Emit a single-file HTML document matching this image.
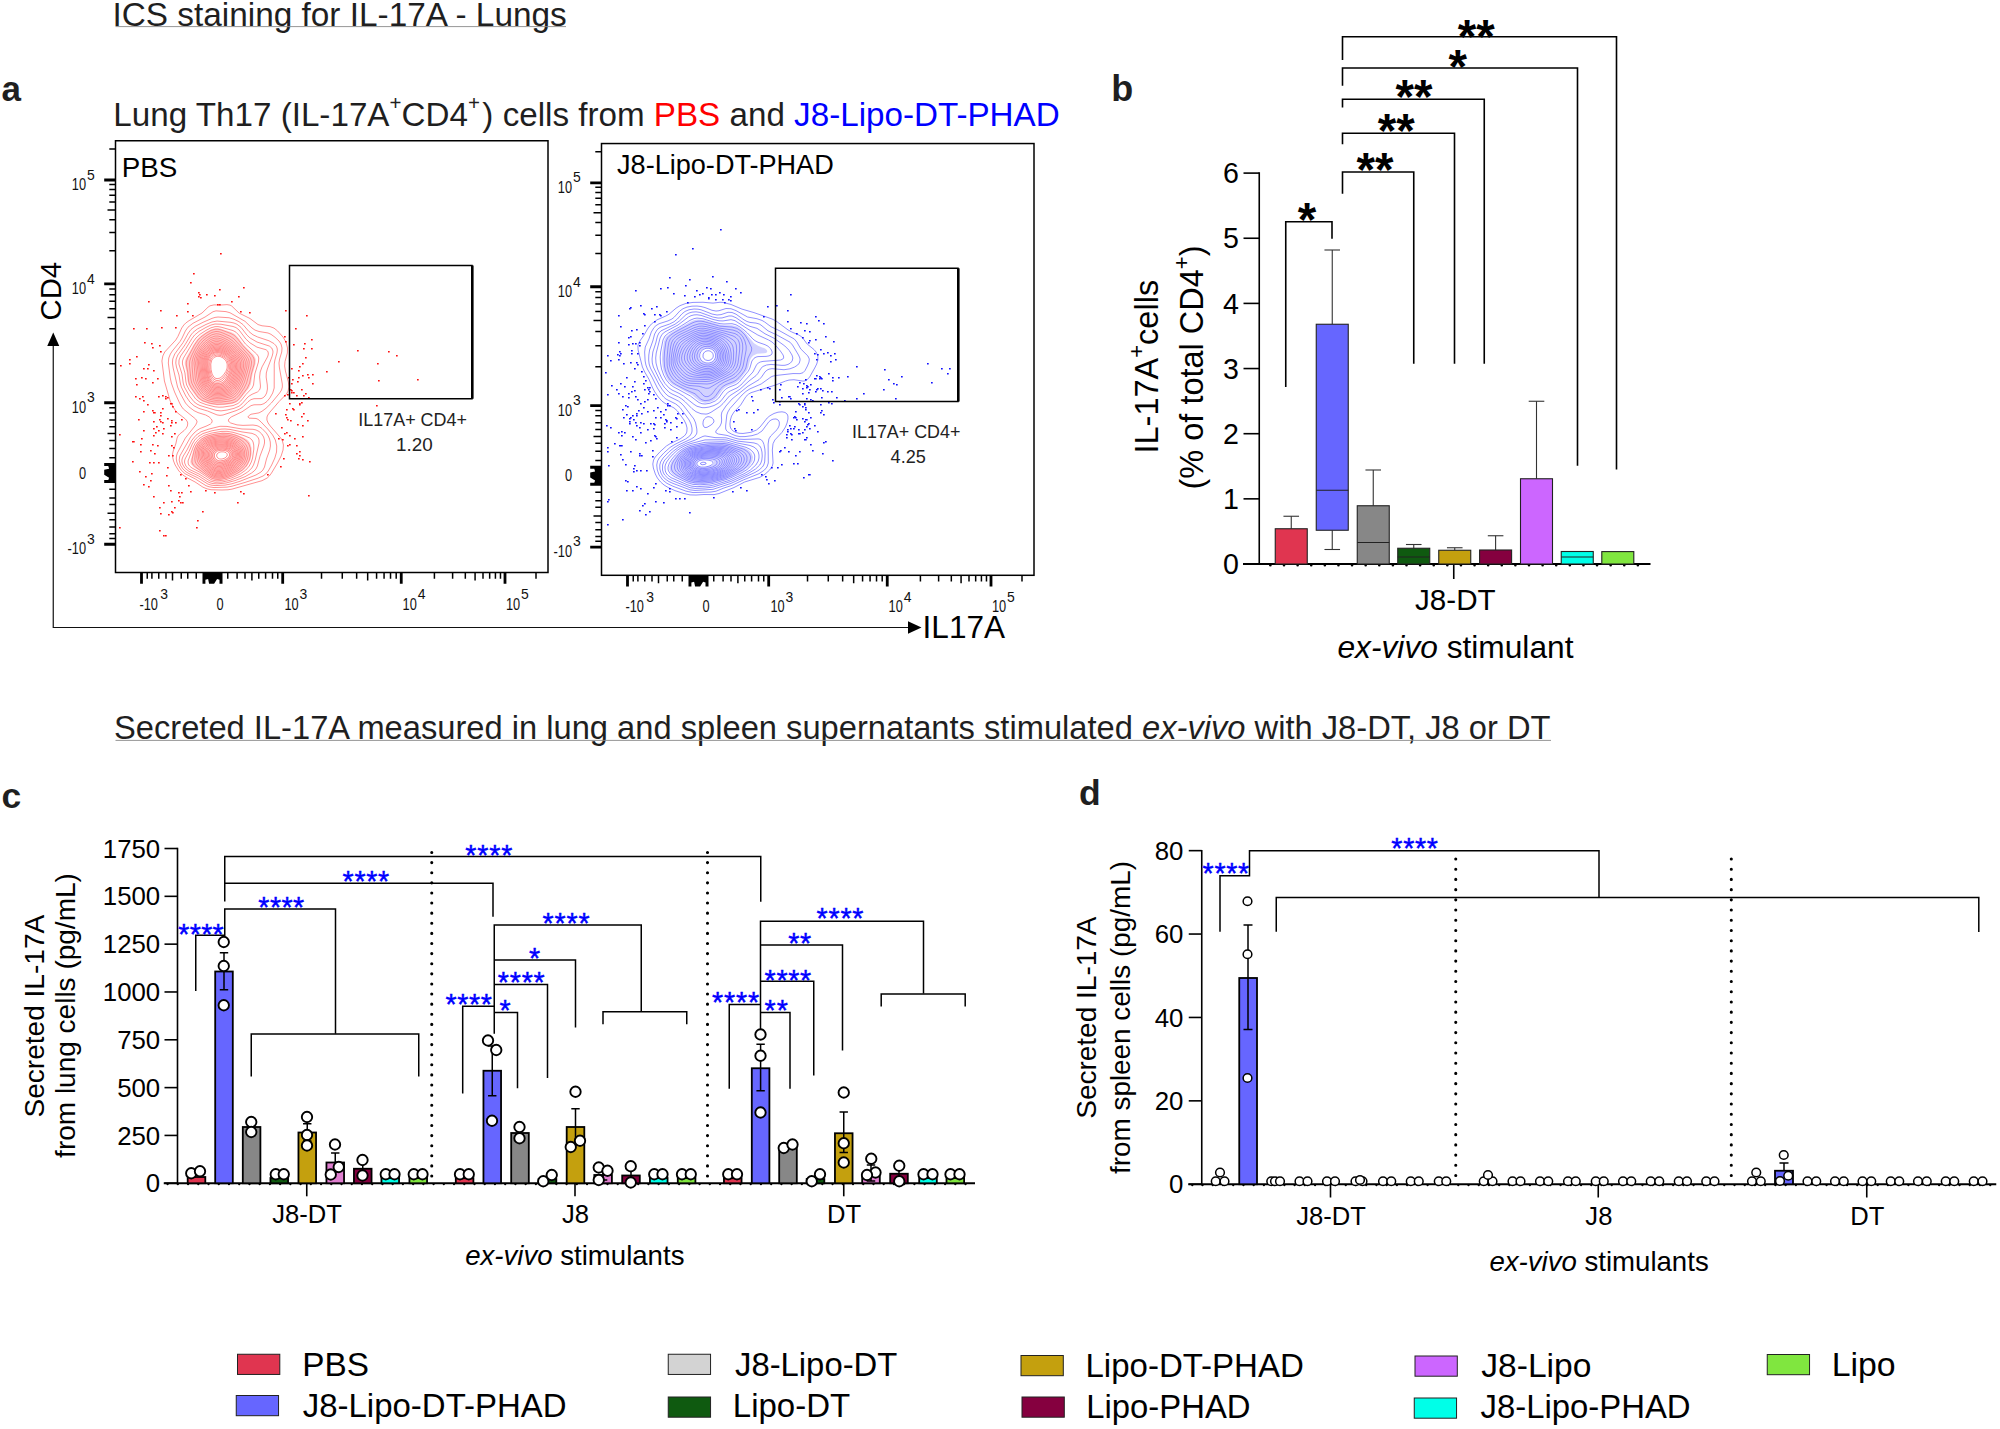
<!DOCTYPE html>
<html><head><meta charset="utf-8"><title>Figure</title>
<style>
html,body{margin:0;padding:0;background:#fff}
svg{display:block}
text{stroke:none;font-family:"Liberation Sans",sans-serif;white-space:pre}
.pt circle{fill:#fff;stroke:#000;stroke-width:1.9}
.pd circle{stroke-width:1.5}
</style></head><body>
<svg width="2000" height="1429" viewBox="0 0 2000 1429" stroke="#000" fill="#000">
<rect x="0" y="0" width="2000" height="1429" fill="#fff" stroke="none"/>
<text x="112.43" y="25.75" font-size="33.36" fill="#1f1f1f">ICS staining for IL-17A - Lungs</text>
<line x1="115.5" y1="26.6" x2="566" y2="26.6" stroke-width="0.9" stroke="#8a8a8a"/>
<text x="1.48" y="101" font-size="35" font-weight="bold" fill="#1f1f1f">a</text>
<text x="1111.37" y="101.25" font-size="36" font-weight="bold" fill="#1f1f1f">b</text>
<text x="1.44" y="807.75" font-size="35.5" font-weight="bold" fill="#1f1f1f">c</text>
<text x="1078.93" y="805.2" font-size="35.5" font-weight="bold" fill="#1f1f1f">d</text>
<text x="113.34" y="126.25" font-size="33.2" fill="#1f1f1f">Lung Th17 (IL-17A<tspan font-size="20.5" dy="-15.8">+</tspan><tspan dy="15.8">CD4</tspan><tspan font-size="20.5" dy="-15.8">+</tspan><tspan dy="15.8" dx="2.5">) cells from </tspan><tspan fill="#ff0000">PBS</tspan> and <tspan fill="#0000ff">J8-Lipo-DT-PHAD</tspan></text>
<text x="114.02" y="739" font-size="33" fill="#1f1f1f" textLength="1436.5" lengthAdjust="spacingAndGlyphs">Secreted IL-17A measured in lung and spleen supernatants stimulated <tspan font-style="italic">ex-vivo</tspan> with J8-DT, J8 or DT</text>
<line x1="115.5" y1="740.4" x2="1551" y2="740.4" stroke-width="0.9" stroke="#8a8a8a"/>
<path d="M225 405.03 217 405.34 210 404.16 202 401.48 197.22 398 190.72 389 188.54 385 187.5 381 186.58 372 184.74 364 184.92 361 186.04 358 193.87 344 197.39 339 201 335.57 207 331.55 211 329.4 215 328.21 218 328.18 221 328.81 232 332.57 235 334.26 237.69 337 243.8 345 253.66 355 255.32 358 255.77 360 255.5 364 252.57 374 250.88 384 249.02 388 240 399.44 237.18 402 233 403.83 225 405.03ZM225 479.01 217 479.96 214 479.57 211 478.51 193.6 467 190.83 464 190.37 462 190.6 460 193.48 450 195.45 445 199 440.19 204 436.71 209 434.86 216 433.32 223 432.52 229 432.8 236 434.49 244 437.7 247.68 440 250.15 443 251.61 448 251.62 454 250.31 460 247.33 466 243.61 470 239 473.21 232 476.65 225 479.01ZM221 383.14 217 383.66 213 382.28 210.17 379 208.66 374 207.73 365 207.87 362 208.62 359 211.32 355 214 353.28 216 352.73 221 353.27 225.88 356 229.32 360 230.71 364 230.59 369 228.37 375 225 380.33 223 382.13 221 383.14ZM224 460.28 220 460.97 218 460.57 216 459.33 214.95 458 214.31 456 215.07 453 217.71 451 221 450.24 225 450.49 228.33 452 229.58 454 229.37 456 227.93 458 224 460.28Z" fill="#ff8a8a" fill-opacity="0.42" fill-rule="evenodd" stroke="none"/>
<path d="M222 490.01 211 489.74 207 488.85 203 487.2 195 481.93 187 477.73 183 475.11 178.9 471 175.16 465 173.55 461 172.65 457 172.58 454 173.19 451 175.78 444 177.1 438 177.96 436 179.72 434 184 430.61 186 428.47 187.42 426 187.74 423 186.98 421 185.37 419 178 413.28 175.72 411 173.15 407 170.18 401 164.43 381 161.92 361 162.81 356 164.74 352 175.81 340 178 336.26 181.72 328 183.8 325 185.77 323 189 320.69 202 313.04 208 307.19 210 305.8 214 304.88 221 305.01 227 304.63 230 305.11 231.73 306 239 313.02 250 318.53 258 324.56 262 325.79 270 326.61 274 328.11 277.63 331 283.01 337 285.99 342 287.53 348 287.37 353 285 361.47 284.65 366 285.41 371 288.36 382 288.84 387 288.11 391 286.52 394 279 401.6 270 412.02 267.81 415 266.97 417 266.9 420 268.12 423 270.3 426 280.75 438 282.45 441 283.42 445 283.04 450 281.12 456 277.53 463 271.54 473 269.3 476 267.19 478 262 480.69 232 489.11 228 489.77 222 490.01ZM227 487.11 214 487.57 209 486.79 206 485.68 195.42 479 185 473.65 181.1 470 177.95 465 176.84 462 176.3 459 176.44 456 177.36 453 185.37 438 195.69 425 197.04 422 196.92 421 195.58 419 183.34 409 181.15 406 179.58 403 174.57 392 171.35 383 170.28 378 168.34 363 168.78 358 170.36 354 172.33 351 180 341.51 182.09 338 185.36 331 188 327.16 193 323.28 205.06 317 213 311.72 216 310.87 226 311.62 230 312.76 245 321.32 252 328.02 255 330.1 259 331.51 268 332.99 271 334.32 275 337.28 279 341 280.99 344 282.02 348 281.72 352 279.6 359 278.99 363 279.3 367 282.31 384 282.36 387 281.54 390 279.63 393 271.38 403 266 408.29 262 411.26 259 412.87 251 414.24 248.49 416 247.95 417 249 418.14 256 418.46 258 419.29 261 421.92 267.74 429 272.62 435 275.34 440 276.73 446 276.56 452 274.83 458 271.66 465 268.24 471 265.73 474 263.02 476 258 478.18 245 482.43 232 486.21 227 487.11ZM225 485.1 215 485.61 211 485.09 208 484.12 198 477.9 189 473.64 186 471.84 182.93 469 180.38 465 179.16 460 179.84 456 190.62 437 194 433.04 197 430.41 200 428.55 207 425.81 210.47 424 211.56 423 212.24 421 211.32 419 209 416.82 205.73 415 198 412.6 194 410.66 189 406.93 185.49 403 180.62 394 177.57 387 173.16 368 172.42 363 172.74 359 174.72 354 183 342.67 188.38 333 191 329.53 195 326.43 203 322.31 212 318.36 215 317.42 218 317.02 229 317.74 234 319.28 239 321.66 243 324.58 249 331.6 253 334.82 257.66 337 269 340.79 274 343.58 276.23 346 277.08 348 277.34 350 276.96 353 274.92 360 274.24 364 274.2 388 272.69 393 269.83 398 267 401.39 264 403.61 261 404.69 254 404.81 251 405.66 242 411.81 231.16 417 228.93 419 228.43 420 228.48 421 229.21 422 230.75 423 237 424.88 243 425.38 253 425.04 257 425.65 259 426.5 262 428.51 266.35 433 268.26 436 269.56 439 270.29 442 270.43 446 269.72 450 266.47 459 264.5 467 262.91 470 261.02 472 255.93 475 240 481.28 232 483.75 225 485.1ZM223 415.01 220 415.39 217 414.91 207.6 411 199 408.44 194 405.81 190 402.2 185.79 396 181.34 387 180.26 383 178.97 375 176.45 367 175.77 363 176.16 359 177.82 355 185 344.82 190.91 335 193 332.41 197.35 329 206 324.44 212 321.97 217 321.05 231 322.35 234 323.05 237 324.29 241 327.39 246.91 335 250.07 338 257 342.04 269.22 346 271.76 348 272.96 351 272.91 353 272.2 356 267.37 369 266.31 373 266.15 377 267.3 385 267.44 389 266.65 393 265.05 396 263 397.84 261 398.62 254 398.71 251 399.6 248 401.8 243 406.81 240 408.88 236 410.67 223 415.01ZM226 483.02 217 483.88 213 483.59 210 482.8 207 481.36 198.77 476 189 471.39 184.75 468 182.41 464 181.86 461 182.07 459 183.27 456 187 449.96 192.04 440 196 435.24 201 431.81 208 429.32 220 426.29 227 426.43 242 429.01 253 429.31 256 429.95 259 431.44 261.79 434 263.62 437 264.48 440 264.52 443 263.82 446 260 456.14 257.41 466 255.9 469 254.13 471 251.56 473 245 476.7 235 480.6 226 483.02ZM227 410.05 221 410.89 216 410.35 200 405.53 197 404.05 194 401.77 189.43 396 184.37 387 183.21 383 181.98 374 178.9 364 179.03 360 180.65 356 186 348.26 192 338.39 194.64 335 199 331.41 206 327.39 211 325.04 215 324 221 324.24 233 326.46 236 327.59 239.07 330 245.85 339 250 342.87 257 347.16 266 349.71 267.62 351 268.35 353 268.16 355 267.46 357 262 366.95 260.17 372 259.61 377 260.46 386 260.28 388 259.53 390 257.38 392 252 394.3 249 396.15 247 397.97 242 403.85 239 406.24 234 408.36 227 410.05ZM222 482.05 215 482.27 210 480.97 199 474.03 190 469.68 187.65 468 185.9 466 184.65 463 184.56 461 185.05 459 189 451.62 192.3 444 194.77 440 198 436.6 203 433.53 212 430.76 221 429.13 225 428.98 230 429.42 242 431.92 252 433.36 255.87 435 258.39 438 259.01 440 259.05 443 255.2 460 253.48 465 251.76 468 247.78 472 241 476.09 230 480.34 222 482.05ZM223 407.08 219 407.2 215 406.8 206 404.57 200 402.31 195.68 399 189.26 390 186.7 385 185.95 382 184.94 373 182.44 364 182.48 361 183.53 358 193.12 342 196 337.99 200 334.27 206 330.4 211 327.78 215 326.66 218 326.61 221 327.15 233 330.57 236 332.2 238.7 335 245.48 344 256.64 354 258.12 356 258.75 358 258.44 362 254.8 374 253.53 385 252.19 388 246 394.42 240.79 401 238 403.49 233 405.6 223 407.08ZM224 480.16 217 480.84 214 480.51 211 479.56 200 472.35 192 468 189.53 466 188.28 464 188.05 461 193.27 447 195.27 443 199 438.6 204 435.44 211 433.19 221 431.45 227 431.34 233 432.3 244 435.61 249.74 438 252 439.97 253.09 442 253.72 445 253.83 449 252.57 458 251.31 462 249.28 466 245.84 470 240.17 474 232 477.76 224 480.16ZM224 404.05 217 404.35 210 403.26 203 400.87 200 399.06 198 397.2 191.4 388 189.34 384 188.58 381 187.72 372 186.31 365 186.28 362 187.56 358 194.48 345 197.91 340 201 336.88 206 333.26 211 330.42 215 329.19 218 329.17 221 329.85 231 333.58 234 335.2 236.92 338 243 345.73 251.9 355 253.69 358 254.26 360 254.19 364 251.35 374 249.63 383 247.39 388 240 397.87 237 400.84 235 402 232 402.98 224 404.05ZM222 479.09 218 479.45 215 479.2 212 478.32 209 476.69 195.46 467 193.26 465 191.94 462 192.14 459 194.26 450 195.74 446 198.27 442 202 438.65 207 436.19 214 434.36 222 433.3 229 433.55 234 434.69 239 436.52 243.91 439 247 441.43 248.89 444 250.29 448 250.67 452 250.32 456 249.3 460 247.49 464 245.36 467 242.26 470 238 472.91 233 475.5 227 477.86 222 479.09ZM221 402.06 214 402 208 400.64 203 398.3 199.39 395 193.8 387 191.76 383 190.88 379 189.45 365 189.74 361 191.44 356 195.4 348 199.31 342 203 338.17 208 334.56 212 332.41 216 331.45 219 331.72 223 333.07 230 336.2 234 338.93 248.55 355 250.52 358 251.59 362 251.13 366 246.59 383 244.17 388 239.37 395 236 398.52 233 400.14 229 401.12 221 402.06ZM220 478.12 215 477.89 211 476.35 206.34 473 197.02 465 195.26 462 194.81 459 195.18 454 196.27 449 198.05 445 200.38 442 204 439.22 208 437.41 215 435.7 222 434.92 228 435.11 233 436.22 237 437.75 241.09 440 244 442.35 246.11 445 247.52 448 248.3 452 248.25 455 247.43 459 246.22 462 244 465.48 241.66 468 238 470.87 229 475.68 224 477.39 220 478.12ZM222 400.11 216 400.4 210 399.43 205 397.23 201.31 394 196.4 387 193.93 382 193.1 378 192.08 367 192.06 362 193.27 357 195.94 351 199.57 345 203 340.92 207 337.6 212 334.73 216 333.73 219 334.02 223 335.41 229 338.31 233 341.12 245.94 355 248.48 359 249.26 362 248.73 367 244.53 382 242.23 387 239 392.14 236 395.71 233 397.77 229 399.07 222 400.11ZM219 477.05 215 476.69 211 474.95 203.68 469 198.92 464 197.39 461 196.75 457 197.08 452 198.14 448 200 444.59 203 441.52 207 439.21 211 437.87 218 436.62 224 436.3 229 436.78 234 438.22 237.73 440 240.68 442 243 444.27 244.84 447 245.98 450 246.43 453 246.28 456 245.19 460 243.66 463 242 465.23 239.19 468 236 470.37 231.58 473 227 475.15 223 476.45 219 477.05ZM225 398.08 219 398.78 214 398.66 210 397.75 206 395.8 202.83 393 199.19 388 196.48 383 195.33 379 193.96 363 194.51 359 196.27 354 200 347.37 204.48 342 210 337.92 215 336.05 218 336.02 222 337.16 228 340.05 232 342.8 237 347.61 243.76 355 246.33 359 247.21 362 246.83 367 243.89 378 241.64 384 238.95 389 236 393.05 233 395.59 230 396.95 225 398.08ZM224 475.02 220 475.88 217 475.91 214 475.2 212 474.24 208.86 472 204.5 468 201.76 465 199.78 462 198.71 459 198.3 456 198.48 452 199.19 449 200.61 446 202.16 444 204.49 442 207 440.55 212 438.84 218 437.85 224 437.61 229 438.17 234 439.74 238 441.92 241.47 445 243.46 448 244.51 451 244.79 455 243.92 459 241.84 463 239 466.24 235 469.41 229 472.95 224 475.02ZM222 397.05 217 397.4 213 397.02 209 395.73 206 393.85 202.41 390 199.27 385 197.63 381 196.85 377 195.62 363 196.36 358 197.85 354 201.37 348 205.78 343 211 339.42 215 338.11 218 338.07 222 339.15 227 341.5 231 344.15 236 348.66 241.82 355 244.39 359 245.33 362 245.11 367 242.55 377 240.27 383 237.05 389 234 392.71 231 394.78 227 396.17 222 397.05ZM223 474.19 220 474.81 217 474.82 214 474.03 212 472.99 209 470.71 205.21 467 202.74 464 201.01 461 200.03 458 199.65 455 199.8 452 200.53 449 203 444.89 205.14 443 208 441.36 213 439.76 218 439 224 438.83 229 439.45 233 440.7 237.21 443 240.47 446 242.33 449 243.24 452 243.26 456 242.02 460 240.17 463 237.33 466 233 469.26 228 472.16 223 474.19ZM219 396.01 214 395.82 210 394.64 206.05 392 202.68 388 200.37 384 198.96 380 197.16 365 197.21 361 198.07 357 199.79 353 202.31 349 205.78 345 209 342.42 213 340.46 216 339.88 219 340.09 223 341.34 228 343.92 232 346.85 237 351.55 240.8 356 243.03 360 243.72 363 243.36 368 241.35 376 238.62 383 235 389.35 232 392.39 229 394.05 225 395.22 219 396.01ZM223 473.07 218 473.82 215 473.26 213 472.35 210 470.2 206.72 467 204.28 464 202.5 461 201.42 458 200.95 455 201.49 450 203.62 446 205.73 444 208 442.6 212 441.1 217 440.18 223 439.93 228 440.44 232 441.57 236 443.63 238.8 446 240.9 449 241.92 452 242.08 455 241.1 459 239.39 462 236.66 465 232.79 468 227.82 471 223 473.07ZM224 394.14 219 394.76 215 394.66 212 393.99 209 392.59 205.89 390 202.89 386 200.97 382 199.95 378 198.41 363 198.82 359 199.73 356 202.4 351 206.66 346 211 342.97 215 341.67 218 341.61 222 342.58 226 344.4 230 346.98 234.69 351 238.38 355 240.94 359 241.95 362 242.03 367 240.83 373 238.83 379 235.54 386 233.51 389 231 391.38 228 393.01 224 394.14ZM222 472.24 219 472.73 217 472.63 212.8 471 210 468.83 207.27 466 205.02 463 203.42 460 202.48 457 202.16 454 203 449.39 204.35 447 206 445.26 210 442.89 214 441.7 219 441.05 224 441.05 229 441.79 233 443.2 235.98 445 238.14 447 240.05 450 240.85 453 240.76 456 239.82 459 237.94 462 235 464.96 231 467.87 226 470.7 222 472.24ZM223 393.1 219 393.56 215 393.4 212 392.65 209 391.08 206 388.32 203.66 385 202.25 382 201.2 378 199.63 363 200.03 359 200.96 356 203.79 351 207 347.35 211 344.52 215 343.21 218 343.14 222 344.09 226 345.92 230 348.54 234.02 352 237.56 356 239.38 359 240.59 363 240.51 368 239.22 374 236.99 380 234.01 386 232 388.71 230 390.47 227 392.04 223 393.1ZM222 471.1 219 471.61 217 471.49 213 469.88 210.61 468 208 465.23 204.71 460 203.41 455 203.52 452 204.06 450 206 446.87 208 445.17 210.12 444 214 442.74 218 442.13 223 442.02 228 442.62 232 443.9 235 445.61 237 447.38 238.8 450 239.7 453 239.61 456 238.58 459 237 461.43 234.49 464 231 466.6 226 469.5 222 471.1ZM222 392.09 218 392.41 215 392.18 212 391.33 209 389.59 206.38 387 204.38 384 203.1 381 202.19 377 200.77 363 201.17 359 202.14 356 204.4 352 208 348.02 211 345.96 215 344.61 218 344.53 222 345.47 226 347.33 230 350.01 234 353.62 236.74 357 238.33 360 239.15 363 239.18 368 238.21 373 236.04 379 233.13 385 231 387.9 229 389.61 226 391.11 222 392.09ZM221 470.19 218 470.44 215 469.71 212 467.83 208.36 464 206.44 461 204.93 457 204.62 453 205.39 450 206.61 448 209 445.86 212 444.39 215 443.56 219 443.04 224 443.07 228 443.65 231 444.58 235 446.92 237.58 450 238.66 454 237.86 458 236 461 232 464.66 226 468.29 221 470.19ZM221 391.06 217 391.21 214 390.74 211 389.51 209 388.1 206.97 386 205.07 383 203.91 380 203.13 376 201.85 363 202.08 360 202.88 357 204.98 353 208 349.5 211 347.32 215 345.92 218 345.83 222 346.76 226 348.66 230 351.43 233.74 355 235.93 358 237.29 361 237.91 364 237.9 368 236.93 373 234.69 379 232 384.44 230 387.1 227.61 389 225 390.19 221 391.06ZM220 469.16 217 469.09 214 467.91 211.54 466 208.94 463 207 459.58 205.93 456 205.86 453 206.77 450 208.23 448 210.98 446 214 444.84 217 444.22 225 444.13 229 444.93 232 446.14 235 448.33 236.87 451 237.56 454 236.69 458 234 461.67 230 464.81 224 468.01 220 469.16ZM220 390 216 389.93 212.63 389 209.45 387 207 384.23 205.33 381 204.48 378 203.04 366 202.91 362 203.34 359 205.54 354 207.96 351 210 349.27 213 347.69 216 347.04 219 347.18 223 348.39 227 350.56 230 352.82 232.26 355 234.55 358 235.95 361 236.62 364 236.66 368 235.67 373 233.35 379 230.79 384 229 386.29 226.84 388 224 389.24 220 390ZM219 468 216 467.53 214 466.53 211.1 464 208.94 461 207.61 458 207.04 455 207.35 452 208.24 450 210 448.02 212 446.74 215 445.64 218 445.08 222 444.89 226 445.24 229 445.95 232 447.29 235.04 450 236.34 453 236.26 456 234.91 459 232.14 462 228 464.83 223 467.18 219 468ZM223 388.26 220 388.81 217 388.84 214 388.26 211.34 387 209 385.04 207.45 383 206.05 380 205.29 377 203.9 364 204.01 361 204.69 358 206.75 354 209 351.44 212 349.35 215 348.34 218 348.22 221 348.82 224 350.04 227.25 352 230 354.22 232.51 357 234.27 360 235.21 363 235.51 367 234.96 371 233.71 375 231.52 380 229.91 383 228 385.44 226 387.01 223 388.26ZM222 466.25 218 466.66 215 465.7 212 463.31 209.69 460 208.38 456 208.45 453 209.82 450 213 447.52 216 446.46 219 445.97 223 445.88 227 446.41 230 447.39 232 448.51 233.65 450 234.88 452 235.31 454 235.1 456 234.27 458 232.77 460 228 463.63 222 466.25ZM222 387.23 217 387.62 214 386.99 211.93 386 210 384.49 208.07 382 206.27 377 204.91 365 204.91 362 205.43 359 206.67 356 209 352.86 212 350.58 215 349.5 218 349.35 221 349.96 224 351.21 226.9 353 230 355.68 231.88 358 233.01 360 234 363 234.33 366 233.96 370 232.8 374 230.61 379 229 382 227 384.54 225 386.05 222 387.23ZM221 465.2 218 465.29 216 464.73 214 463.52 211.67 461 210.54 459 209.67 456 209.84 453 210.76 451 212 449.64 214 448.34 219 446.98 223 446.86 226 447.21 230.82 449 233 451 233.95 453 234 455.46 232.97 458 231 460.25 228 462.41 224 464.34 221 465.2ZM221 386.12 218 386.41 215 386.01 213 385.23 211 383.86 209.35 382 208.23 380 206.75 374 205.82 364 206.01 361 206.82 358 208.51 355 210.37 353 213 351.3 216 350.48 218 350.45 221 351.07 224 352.36 227 354.33 229.8 357 231.23 359 232.21 361 233 364 233.15 367 232.52 371 229 379.35 227.35 382 225.49 384 224 385.03 221 386.12ZM224 463.07 221 463.87 218 463.86 215 462.59 213 460.65 211.53 458 210.99 455 211.82 452 213.67 450 218 448.23 223 447.87 228 448.83 231.41 451 232.16 452 232.8 454 232.57 456 232 457.28 229 460.44 224 463.07ZM219 385.05 216 384.92 214 384.31 212 383.14 210.01 381 208.95 379 208.04 376 206.99 368 206.87 362 207.53 359 208.42 357 210 354.8 212 353.09 216 351.6 218 351.55 221 352.17 224 353.51 227 355.62 229.27 358 230.55 360 231.38 362 231.97 365 231.92 368 230.99 372 227.05 380 224 383.3 222 384.36 219 385.05ZM223 462.06 220 462.54 218 462.32 216 461.47 214 459.6 212.74 457 212.53 455 213.04 453 214.7 451 218 449.45 223 448.96 227.78 450 230.48 452 231.07 453 231.34 455 230 457.89 227 460.34 223 462.06ZM221 383.14 217 383.66 215 383.26 213 382.28 211.54 381 210.17 379 208.66 374 207.73 365 207.87 362 208.62 359 209.63 357 211.32 355 214 353.28 216 352.73 218 352.65 221 353.27 225.88 356 229.32 360 230.71 364 230.59 369 228.37 375 225 380.33 223 382.13 221 383.14ZM224 460.28 220 460.97 218 460.57 216 459.33 214.95 458 214.31 456 214.55 454 215.07 453 217.71 451 221 450.24 225 450.49 228.33 452 229.58 454 229.37 456 227.93 458 224 460.28ZM219 382.06 217 382.16 215 381.73 213 380.57 211.59 379 209.91 375 208.77 367 208.89 362 210.28 358 213 355.09 215 354.13 217 353.77 221 354.39 225.48 357 227.38 359 228.62 361 229.69 365 229.58 368 229 370.42 226 376.52 223 380.14 221 381.43 219 382.06ZM222 459.04 219.79 459 217.71 458 216.59 456 216.98 454 219 452.39 221 451.82 224 451.89 226 452.67 227.23 454 227.1 456 225.02 458 222 459.04ZM220 380.04 218 380.51 216 380.37 213 378.57 211.08 375 210 369.6 209.8 363 211 359 212 357.55 213.8 356 217 354.95 221 355.55 225 357.99 227.37 361 228.53 365 228.17 369 226 373.97 223 377.97 220 380.04ZM220 378.08 217 378.69 215 378.08 214 377.31 212.05 374 211 369.21 210.78 364 211.82 360 214 357.38 217 356.21 220 356.45 223.23 358 226 360.93 227.19 364 227.13 368 226 371.22 223 375.69 220 378.08Z" fill="none" stroke-width="0.9" stroke="#ff8585"/>
<path d="M709 402.17 705 402.67 701 401.84 699 400.7 692.03 395 672 384.29 668.66 381 666.09 377 663.6 371 662.48 366 661.96 359 662.18 353 664.15 341 665.95 337 670.68 333 689 322.52 693 320.5 697 319.44 703 319.86 720 324.72 724 325.16 732 325.13 737 326.58 741 329.03 744.57 332 754 343.24 758 345.76 765 348.56 766.7 350 767.19 351 767.13 352 766 353.05 757 353.83 753 355.81 751.1 358 750.11 360 748.45 367 747.22 370 739.33 380 735 383.3 728 385.95 725 387.64 722.49 390 716.75 398 713 400.65 709 402.17ZM702 484.03 694 483.79 688 482.17 675.28 476 672.31 474 670.5 472 669.6 470 669.42 467 671.25 462 676.46 455 679.54 452 683 449.47 690 446.3 703 443.44 709 442.82 724 442.49 729 443.36 744.67 448 748.54 450 751.56 453 753.04 457 752.46 461 749.34 466 744 470.55 732 476.64 725 479.47 711 483.25 702 484.03ZM711 363.03 708 363.57 704.5 363 701.2 361 699.7 359 699.05 357 699.21 354 700.66 351 703 348.93 706 347.88 710 348.07 713 349.48 715.23 352 716.14 355 715.83 358 714 361.11 711 363.03ZM707 467.11 703 467.57 699.14 467 696.6 465 696.3 463 698 460.86 700 459.98 703 459.51 710.16 460 712.9 461 713.94 462 714 463.36 712.64 465 707 467.11Z" fill="#8a8aff" fill-opacity="0.38" fill-rule="evenodd" stroke="none"/>
<path d="M696 495.05 690 494.88 684 493.56 675 490.63 668 487.43 664 484.96 660.58 482 657.4 478 655.32 474 653.36 468 652.8 464 653.54 460 655.28 457 660 451.83 666.39 446 670 443.76 679.98 439 684.26 436 685.94 434 686.83 432 687.05 428 685.99 424 684 420 677.44 411 674 407.93 665 403.35 662 401.16 658.29 397 654.83 392 652.69 388 649 379.36 644.7 372 642.42 367 638.11 350 637.91 346 638.39 344 639.89 341 644 335.13 648.16 328 651.39 324 657 319.87 665.82 316 669 314.23 676 308.21 680 305.63 686 303.4 693 302.42 703 302.26 713 303.12 720 302.26 723 302.44 731 304.47 742 309.11 754 312.61 772 318.98 776 320.99 788.14 330 791.8 332 798.87 335 801.93 337 807.18 344 814 349.58 816.1 352 817.83 356 817.9 360 816.72 364 814.71 368 809.61 377 807 379.85 805 380.83 803 381.11 794 379.73 789 380.05 785.66 381 776 384.85 751 392.69 748.72 394 746 396.46 740.67 405 734 411.98 731.56 416 730.38 420 729.96 424 730.27 427 731.15 429 733.17 431 736 432.46 739 433.27 743 433.47 751 432.31 756.5 430 760.06 427 767.2 418 770 415.69 774 413.48 778 412.19 782 411.82 785 412.42 787.11 414 787.92 416 787.94 419 787.04 423 785.44 427 782 432.33 774.83 440 773 443.75 772.33 450 773.07 463 772.35 466 769.67 470 765 474.23 760 477.26 744.66 482 734 487.53 719 493.55 714 494.62 704 494.52 696 495.05ZM711 492.03 693 492.57 686 491.15 673 486.26 667 483.39 662.67 480 659.1 475 657.29 470 656.72 465 657.55 461 659.27 458 664 452.83 670 447.49 675 444.38 685.58 439 689.74 436 691.65 433 692.06 431 691.97 428 691.01 424 689.1 420 680 407.48 675.82 404 666 399.09 663.66 397 660.52 393 657.38 388 652 377.09 647.42 369 645.91 365 645.13 361 644.64 352 645.26 347 648.94 339 651.34 332 654 327.58 656 325.64 659 323.76 668 320.88 671.93 319 674.38 317 679.8 311 683 308.7 687 307.09 692 306.16 697 306.06 701 306.51 705 307.57 712 310.29 716 311.05 719 310.72 726 308.51 731 308.73 736 310.61 747.58 317 757 318.74 762 320.43 764.7 322 771 326.72 779 330.46 794.29 339 796.84 342 800.83 349 807.92 356 809.32 359 809 362 807.4 366 805 370.57 803 372.72 800 373.64 793 373.56 776 375.49 773 376.07 771 376.93 761.16 384 750 388.83 746 391.39 742.05 395 730 408.46 727.85 412 726.8 415 725.63 426 725.71 429 726.77 431 727.9 432 731.38 434 736 435.86 740 436.64 745 436.6 752 435.66 757.46 434 762.01 431 769 421.61 771 420.05 773 419.18 776 418.95 778.17 420 779.3 422 779.27 425 778.62 427 777 429.73 770.68 436 768.87 439 768.12 444 768.3 463 766.94 467 764.47 470 759 473.7 743.22 480 732 485.36 723.91 488 716 491.21 711 492.03ZM702 490.04 695 490.44 690 489.85 673 483.41 669 481.61 665.17 479 662.53 476 660.93 473 659.85 469 659.79 465 660.58 462 663.06 458 668.81 452 674 447.71 679 444.73 691.13 439 694.31 437 696.56 434 696.95 432 696.81 429 695.64 423 693.91 419 683.92 406 681.02 403 678.34 401 668 395.9 665 393.12 662 389.22 658.75 384 650.43 368 649.13 364 648.66 360 648.82 355 649.58 350 652.79 341 654.64 334 657 329.86 659 328.1 661 326.98 669.68 324 674 321.78 677.39 319 682 313.82 685 311.45 689 309.77 694 309.01 698 309.19 701 309.79 711.97 314 717 315 721 314.61 728 312.27 732 312.47 736 314.19 744 319.85 747 321.48 750 322.43 756 323.09 759.16 324 761 325.07 768 330.85 777 335.02 790 342.2 792.48 345 798.5 355 799.85 358 800.12 360 799.31 363 797.7 365 794.65 367 790 368.8 784 369.74 772 368.64 769 369.18 767 370.13 765 371.92 761.54 377 759 379.68 748 386.21 732 399.05 725.96 406 721.93 412 721.31 415 721.64 420 721.36 423 720 426.1 715.9 431 715.73 432 716.23 433 718.23 434 727 435.41 735 438.18 739 439.13 744 439.42 758 438.92 760 439.21 761.5 440 763 441.96 764 444.66 764.85 449 765.15 453 764.68 462 763.68 465 762.39 467 759.07 470 755 472.45 731 483.39 713 489.33 702 490.04ZM706 414.1 701 413.72 696 411.71 692 408.62 685.4 402 681.84 399 678.69 397 672 393.96 669 392.16 664.07 387 659.66 380 653.36 367 652.31 363 652.06 359 652.85 352 655.76 343 657.47 336 658.92 333 661 330.86 675 324.21 679.35 321 686 314.65 689 313 692 312.13 696 311.84 700 312.4 712.83 317 718 318.05 722 317.95 729 315.94 732 315.99 736 317.72 746 324.62 750 326.36 757 328.35 765 333.77 774 338.23 784.86 346 789 350.22 791.99 355 792.85 358 792.15 361 790.42 363 788 364.45 785 365.27 782 365.35 771 364.42 766.56 365 763 366.44 761 368.28 758 373.21 756 375.64 749 380.99 740 389.23 729.43 396 723 403.57 720 406.42 711 412.31 708 413.73 706 414.1ZM707 427.38 705 427.59 704 426.95 703.44 426 702.92 424 703.25 421 704.26 419 706 417.35 708 416.66 710 416.92 712 417.86 713.21 419 713.99 421 713.8 422 713 423.28 711.06 425 707 427.38ZM705 488.04 695 488.45 690 487.7 672 480.53 668 478.35 664.63 475 663.48 473 662.53 470 662.57 465 663.65 462 664.86 460 672.24 452 679 446.91 686 443.44 695.34 440 703 436.38 705 435.93 715 437.62 726 437.83 738 441.17 754 442.93 757.34 444 759.77 446 761 448.17 761.98 452 762.22 456 761.83 460 760.9 463 759.75 465 755.65 469 747 474.27 731 481.42 713 487.12 705 488.04ZM709 407.08 705 407.66 702 407.65 697 406.28 694 404.36 683.44 396 679 393.35 672 390 669 387.92 665 383.51 661.62 378 657.6 369 656 363 655.69 358 656.22 353 660.08 338 662 334.32 665 331.86 678 325 688.4 317 691 315.7 694 314.91 697 314.75 701 315.36 713 319.43 719 320.8 723 320.95 731 319.67 735 320.68 748 329.15 757.82 335 768.65 340 772 342.01 775.32 345 780.37 351 783.1 355 783.7 357 783.56 358 782.87 359 780.62 360 763 361.4 760.25 362 758.24 363 756.46 365 752.95 372 740.89 385 737 387.9 730.2 391 728 392.4 726 394.33 721 400.83 718 403.41 714 405.53 709 407.08ZM709 486 697 486.65 692 486.21 687 484.65 671 477.61 667.61 475 666.15 473 665.31 471 664.94 467 665.33 465 666.63 462 669.53 458 673.2 454 677 450.54 681 447.76 685 445.68 690 443.78 705 439.91 723 439.75 727 440.06 737 442.96 750 445.46 754 447.08 757 449.59 758.31 452 758.97 455 758.96 458 758.26 461 755.88 465 750.37 470 744 473.78 729 480.44 715 484.72 709 486ZM705 404.02 702 403.72 699 402.58 690.39 396 673 386.55 670 384.34 666.36 380 663.67 375 661.54 369 660.49 363 660.19 357 660.64 352 663.01 340 665.03 336 668.67 333 681.08 326 690 320.33 694 318.61 697 318.07 703 318.73 714 322.25 720 323.67 724 324.01 732 323.68 736 324.77 740 327.03 744.03 330 747.36 333 753 339.1 755 340.67 758 342.26 765 344.66 768 346.21 770.86 349 772.19 352 771.88 354 770.96 355 769 355.9 766 356.4 758 356.59 756 357.11 754 358.27 751.91 361 749.88 368 748.39 371 739 382.29 736 384.48 729 387.22 725.83 389 723 391.91 718.78 398 715.2 401 710 403.24 705 404.02ZM710 484.08 700 484.77 693 484.4 687 482.57 675.08 477 670.53 474 668.5 471 668.03 469 668.06 467 669.38 463 671.97 459 675.3 455 679 451.46 683 448.66 687 446.68 691 445.31 705 442.34 722 441.72 727 442.1 746 447.33 750 449.31 752.98 452 754.18 454 754.77 456 754.51 460 753.71 462 751.74 465 747 469.58 742 472.62 729 478.68 717 482.43 710 484.08ZM709 400.18 705 400.65 702 399.85 700 398.5 695 393.78 685 389.43 676.48 385 673 382.75 670.21 380 667.64 376 665.58 371 664.49 366 664.12 359 664.5 352 665.89 342 667.56 338 670.5 335 676 331.52 692 323.1 695 321.88 698 321.21 701 321.17 704 321.65 720 326.15 732 327.05 737 328.46 741.03 331 744.94 335 748.55 341 751.73 348 751.44 351 748 358.06 745.83 368 744.3 371 742 374.1 739 377.57 736 380.21 733 381.84 726 384.55 723 386.41 720.37 389 715 396.67 712 398.92 709 400.18ZM704 483.04 695 482.89 689 481.45 683.46 479 677 475.39 673.78 473 672.2 471 671.49 469 671.41 467 672.14 464 673.6 461 678.02 455 681 452.14 683.98 450 687 448.4 691 446.94 702 444.63 710 443.79 724 443.51 729 444.45 743.2 449 746.76 451 749.46 454 750.32 456 750.62 458 749.76 462 747.21 466 742.56 470 732 475.61 725 478.59 712 482.15 704 483.04ZM709 396.18 707 396.69 705 396.46 703 395.2 700 391.65 698 390.21 687 387.45 681 384.62 676 381.59 673 378.91 670.29 375 668.48 371 667.21 366 666.91 359 668.03 347 668.94 342 670.36 339 673.25 336 678 332.97 693 325.66 699 323.84 702 323.78 705 324.24 718.72 328 733 330.09 737 331.46 740.57 334 743 337 744.91 341 746.16 346 746.13 350 743.14 366 742.01 369 740.09 372 737 375.4 734 377.7 724 382.2 719.54 385 716.4 388 711.98 394 709 396.18ZM711 481.02 702 481.73 694 481.22 687 478.98 680.09 475 676.57 472 675.2 470 674.57 468 674.53 466 675.25 463 678.61 457 681.25 454 683.61 452 686.85 450 690 448.65 700 446.37 711 445.18 722 444.89 727 445.52 741 450.43 743.69 452 745.68 454 747.02 457 746.85 461 744.82 465 741.9 468 735.66 472 727 476.47 720 478.88 711 481.02ZM709 388.14 706 388.26 699 386.26 689 385.48 685 384.13 681 382.02 676.78 379 673.32 375 670.7 370 669.33 365 669.14 359 670.58 347 671.44 343 673 339.87 675.83 337 680 334.43 694 327.77 699 326.23 702 326.05 706 326.59 735 333.58 738 335.32 740 337.4 741.49 340 742.62 344 742.77 349 740.62 364 739.33 368 737.42 371 735 373.52 732 375.69 720.98 381 709 388.14ZM710 480.01 702 480.51 694 479.86 688 477.9 681.7 474 679.58 472 678.13 470 677.32 468 677.09 466 677.28 464 678.23 461 681.36 456 686 451.93 689 450.34 693 448.97 706 446.77 719 446.13 725 446.51 730 447.92 739.65 452 743.1 455 744.25 458 744.24 460 743.71 462 741.97 465 738.88 468 731.13 473 725 476.05 718 478.33 710 480.01ZM707 384 690 383.26 687 382.54 683.6 381 679.29 378 675.65 374 672.71 369 671.23 364 671.19 358 672.56 349 673.73 344 675.29 341 678 338.3 681.79 336 695 329.58 700 328.22 704 328.25 708 329 723.99 333 733 335.93 736 337.64 738 339.81 739.07 342 739.71 345 739.65 350 738.03 363 736.77 367 734.87 370 731.69 373 727 375.78 713 382.63 710 383.64 707 384ZM709 479.07 701 479.38 694 478.63 688 476.46 683.03 473 681.2 471 680.01 469 679.21 465 679.46 463 680.49 460 683.13 456 685.19 454 688 452.09 694 449.8 705 447.97 717 447.28 723 447.47 728 448.61 735.83 452 740.03 455 741.57 458 741.47 461 740.7 463 739.35 465 736.21 468 730 472.24 724 475.32 717 477.57 709 479.07ZM710 381.14 706 381.52 692 381.15 689 380.77 686 379.74 681.74 377 678 373.11 674.64 368 673.22 364 672.95 359 673.87 353 675.52 346 677.6 342 679.61 340 683 337.81 694 332.06 699 330.34 703 330.04 707 330.57 718 333.2 724 335.05 728.4 337 733.27 340 735.08 342 736.3 345 736.64 350 735.74 361 734.78 365 733 368.4 730 371.52 726 374.14 715 379.52 710 381.14ZM709 478.06 702 478.37 695 477.69 689.83 476 685.19 473 683.28 471 682.02 469 681.02 465 681.38 462 682.1 460 684.78 456 689 452.76 695 450.56 706 448.87 718 448.32 723 448.63 728 449.94 734.31 453 737.96 456 739.19 459 738.75 462 736.92 465 732.58 469 727 472.7 722 475.05 716 476.83 709 478.06ZM710 379.18 705 379.55 693 379.03 690 378.65 687 377.64 683.1 375 679.39 371 676.59 367 675.05 363 674.81 359 675.6 354 677.2 348 679.11 344 681 341.88 685.11 339 694 334 699 332.17 703 331.81 707 332.27 716 334.32 722 336.29 725.29 338 729.22 341 731.74 344 733.01 347 733.66 352 733.39 360 732.57 364 730.51 368 727.49 371 723 373.85 715 377.67 710 379.18ZM709 477.11 702 477.39 696 476.82 691 475.29 687 472.82 683.78 469 682.62 465 683.17 461 685.45 457 689 453.95 695 451.52 704 450.02 715 449.36 721 449.49 726 450.51 731.39 453 735.26 456 736.78 459 736.46 462 734.69 465 730.48 469 726 472.06 721 474.41 715 476.12 709 477.11ZM712 377.01 708 377.74 703 377.75 693 376.87 689 375.84 686 374.14 682.62 371 679 366.55 677.25 363 676.78 360 677.16 356 679 349.5 681 345.48 683.19 343 685.75 341 693 336.41 697 334.51 701 333.57 705 333.6 713 335.13 719.18 337 723 339 725.5 341 728.07 344 730.1 348 731.12 353 731.25 358 730.54 363 729 366.5 726.99 369 723.05 372 717 375.17 712 377.01ZM710 476.07 703 476.47 697 475.99 693 474.95 689 472.86 686.06 470 684.23 466 684.27 462 686.11 458 689.23 455 694 452.74 701 451.27 711 450.42 719 450.38 724 451.12 728.65 453 732.73 456 734.46 459 734.29 462 732.61 465 729.72 468 725.72 471 721 473.41 716 474.97 710 476.07ZM709 376.05 705 376.24 699 375.71 694 374.88 690 373.56 687 371.64 683 367.66 680.31 364 679.18 361 679.04 358 679.83 354 681.72 349 683.58 346 686.5 343 691 339.62 695 337.18 699 335.6 703 335.1 708 335.59 715 337.2 719.5 339 722.46 341 725.25 344 727.07 347 728.51 351 729.16 356 729.02 360 728.05 364 726.33 367 723.22 370 719 372.62 714 374.83 709 376.05ZM711 475.02 704 475.56 698 475.19 693.39 474 690 472.18 687 469.11 685.62 466 685.58 462 686.8 459 689.56 456 694 453.68 699 452.44 707 451.52 716 451.26 722 451.8 726 453.1 730.34 456 731.85 458 732.42 461 731.32 464 728.9 467 725.29 470 721 472.38 716.2 474 711 475.02ZM711 374.19 707 374.7 702 374.45 697 373.55 692.33 372 689.04 370 686 367.18 683.42 364 682 361.2 681.56 358 682.01 355 683.43 351 685.05 348 687.42 345 690.7 342 695 339.01 698 337.6 702 336.73 706 336.81 712 337.89 717 339.56 720 341.31 722.84 344 724.87 347 726.18 350 727.1 354 727.29 358 726.72 362 725.5 365 723.13 368 720 370.4 716 372.53 711 374.19ZM711 474.11 705 474.64 700 474.5 695 473.53 691.67 472 688.39 469 686.95 466 686.84 462 688.14 459 691 456.18 694 454.63 699 453.3 706 452.46 714 452.19 720 452.56 724.93 454 728 456 729.67 458 730.39 461 729.41 464 727.07 467 723.36 470 720 471.77 716 473.11 711 474.11ZM709 373.06 705 373.18 701 372.67 697 371.62 693.29 370 690.4 368 688 365.65 685.98 363 684.63 360 684.37 357 684.95 354 686.59 350 688.49 347 691.15 344 694 341.6 697 339.77 700 338.67 704 338.22 708 338.55 713 339.65 717 341.28 719.51 343 722 345.68 723.94 349 724.98 352 725.57 356 725.35 360 724.52 363 722.75 366 720 368.62 717 370.5 713 372.18 709 373.06ZM712 473.02 706 473.69 701 473.68 696.63 473 693 471.57 689.87 469 688.23 466 687.91 463 688.84 460 691 457.42 694 455.61 698 454.36 703 453.58 711 453.13 718 453.38 722 454.19 725.58 456 727.52 458 728.42 461 728.01 463 726.17 466 723 468.91 720 470.67 716.49 472 712 473.02ZM711 371.24 708 371.67 704 371.55 700 370.72 697 369.62 694.05 368 691.55 366 689.74 364 687.92 361 687.28 359 687.17 356 687.86 353 689.14 350 691.04 347 693.76 344 696.39 342 699 340.69 702 339.92 706 339.81 710 340.36 714 341.51 716.92 343 719 344.64 721.02 347 722.65 350 723.59 353 723.97 357 723.41 361 722.13 364 720.63 366 718 368.24 714.79 370 711 371.24ZM712 472.06 706 472.77 701 472.76 697 472.12 694 470.95 691.39 469 689.52 466 689.14 463 690.15 460 692 457.91 695 456.18 699 455.02 704 454.35 711 454.06 717 454.35 721 455.2 724.32 457 725.94 459 726.45 461 726.13 463 724.35 466 722.25 468 719 469.98 712 472.06ZM709 370.07 703 369.78 700 368.92 697 367.52 692.65 364 691 361.67 689.93 359 689.67 357 690.02 354 691.05 351 692.74 348 696.53 344 701 341.8 704 341.33 707 341.38 711 342.05 714 343.09 717 344.89 719 346.83 720.5 349 721.77 352 722.36 355 722.34 358 721.7 361 720.19 364 718.41 366 715.57 368 712 369.47 709 370.07ZM712 471.04 707 471.74 702 471.89 698 471.37 695 470.29 692.03 468 690.82 466 690.39 463 690.94 461 692.39 459 695 457.22 698 456.15 702 455.44 709 455.03 715 455.24 719 455.94 722 457.31 723.72 459 724.44 461 724.22 463 723.23 465 721.43 467 718.43 469 712 471.04ZM711 368.17 708 368.59 705 368.46 700 367.02 695.53 364 693.84 362 692.76 360 692.08 356 693.38 351 696 346.98 698 345.18 700 344 703 343.09 706 342.86 712 343.87 715 345.29 717 346.86 719.83 351 720.71 354 720.87 357 720.33 360 719.5 362 718.14 364 716 365.93 714 367.11 711 368.17ZM711 470.14 702 470.91 699 470.56 696 469.58 693.66 468 692.2 466 691.69 463 692.33 461 694 459.07 696 457.86 699 456.87 704 456.18 710 456.06 715 456.44 718 457.1 721 458.8 721.93 460 722.37 462 721.82 464 720.36 466 717 468.31 711 470.14ZM712 366.2 708 366.95 703 366.26 698.62 364 695.82 361 694.87 359 694.46 357 694.93 353 696.95 349 700.27 346 702.63 345 705 344.55 710 344.87 713 345.91 714.81 347 717.6 350 718.6 352 719.28 355 719.15 358 718.59 360 717.56 362 716 363.82 712 366.2ZM710 469.13 702 469.86 697 468.79 695 467.52 693.72 466 693.07 464 693.36 462 694.77 460 696.18 459 699 457.91 703 457.27 709 457.16 714 457.64 717 458.48 719 459.77 720.05 462 719.95 463 718.91 465 716 467.22 710 469.13ZM709 365.1 705 364.88 701 363.18 698.6 361 697.1 358 696.92 355 698.29 351 701 348.01 704 346.62 708 346.25 712 347.23 715 349.3 716.32 351 717.22 353 717.58 357 717.11 359 716.1 361 713 363.83 709 365.1ZM708 468.17 702 468.67 698 467.83 696 466.52 694.93 465 694.71 463 695.04 462 696 460.77 698 459.51 701 458.66 704 458.35 709 458.47 712.78 459 715.49 460 716.68 461 717.18 463 715.97 465 712.44 467 708 468.17ZM709 363.08 706 362.96 703 361.76 700.98 360 699.63 357 699.78 354 701 351.45 703 349.52 706 348.34 709 348.29 712 349.3 714.07 351 715.57 354 715.65 357 714.37 360 712 362.1 709 363.08ZM705 467.11 701 467.13 698.02 466 696.72 464 697.28 462 700 460.34 704 459.77 709 460.22 711.58 461 712.89 462 713 463.44 711.59 465 709 466.16 705 467.11ZM710 360.2 708 360.53 705.66 360 704 358.79 703 357.07 703.14 354 704.58 352 706 351.13 708 350.72 710 351.01 711.68 352 713 353.85 713.3 356 713 357.3 711.91 359 710 360.2ZM705 464.39 702 464.81 700.49 464 700.61 463 703 462.13 705 462.44 706.1 463 705.83 464 705 464.39Z" fill="none" stroke-width="0.9" stroke="#8585ff"/>
<path d="M198 296.75h1.7M142 396.75h1.7M193 273.75h1.7M237 502.75h1.7M240 311.75h1.7M285 341.75h1.7M205 490.75h1.7M284 395.75h1.7M152 347.75h1.7M243 287.75h1.7M190 491.75h1.7M129 363.75h1.7M285 414.75h1.7M220 253.75h1.7M162 408.75h1.7M275 413.75h1.7M219 289.75h1.7M249 312.75h1.7M176 315.75h1.7M214 492.75h1.7M160 310.75h1.7M171 403.75h1.7M143 368.75h1.7M175 327.75h1.7M187 311.75h1.7M217 304.75h1.7M282 439.75h1.7M190 282.75h1.7M243 493.75h1.7M159 345.75h1.7M192 315.75h1.7M136 384.75h1.7M152 444.75h1.7M135 396.75h1.7M148 301.75h1.7M199 294.75h1.7M296 453.75h1.7M308 495.75h1.7M153 435.75h1.7M285 310.75h1.7M214 295.75h1.7M290 389.75h1.7M170 425.75h1.7M291 390.75h1.7M206 294.75h1.7M199 294.75h1.7M150 480.75h1.7M219 304.75h1.7M152 410.75h1.7M267 474.75h1.7M296 395.75h1.7M146 328.75h1.7M240 491.75h1.7M174 433.75h1.7M283 458.75h1.7M157 445.75h1.7M173 447.75h1.7M143 400.75h1.7M153 462.75h1.7M166 475.75h1.7M139 398.75h1.7M149 462.75h1.7M133 441.75h1.7M154 412.75h1.7M153 496.75h1.7M147 368.75h1.7M167 397.75h1.7M171 422.75h1.7M163 428.75h1.7M133 328.75h1.7M160 412.75h1.7M136 356.75h1.7M167 467.75h1.7M196 527.75h1.7M138 419.75h1.7M141 438.75h1.7M158 396.75h1.7M143 430.75h1.7M129 359.75h1.7M155 432.75h1.7M135 378.75h1.7M160 351.75h1.7M162 433.75h1.7M154 453.75h1.7M170 403.75h1.7M188 485.75h1.7M162 395.75h1.7M175 422.75h1.7M141 377.75h1.7M159 530.75h1.7M181 492.75h1.7M178 492.75h1.7M172 455.75h1.7M171 445.75h1.7M119 434.75h1.7M139 471.75h1.7M153 412.75h1.7M161 327.75h1.7M143 484.75h1.7M157 378.75h1.7M160 415.75h1.7M145 476.75h1.7M158 430.75h1.7M120 365.75h1.7M185 478.75h1.7M132 441.75h1.7M168 485.75h1.7M144 342.75h1.7M152 382.75h1.7M151 473.75h1.7M158 462.75h1.7M150 450.75h1.7M132 461.75h1.7M147 404.75h1.7M165 396.75h1.7M153 421.75h1.7M172 406.75h1.7M168 455.75h1.7M171 420.75h1.7M180 474.75h1.7M143 411.75h1.7M140 444.75h1.7M145 378.75h1.7M159 419.75h1.7M175 411.75h1.7M153 428.75h1.7M148 364.75h1.7M162 422.75h1.7M156 426.75h1.7M140 451.75h1.7M148 486.75h1.7M151 343.75h1.7M171 436.75h1.7M163 535.75h1.7M160 421.75h1.7M167 418.75h1.7M181 419.75h1.7M165 535.75h1.7M153 370.75h1.7M165 398.75h1.7M291 392.75h1.7M304 343.75h1.7M295 328.75h1.7M305 357.75h1.7M302 436.75h1.7M308 397.75h1.7M278 438.75h1.7M292 408.75h1.7M292 379.75h1.7M311 339.75h1.7M306 315.75h1.7M307 374.75h1.7M302 459.75h1.7M301 416.75h1.7M308 377.75h1.7M297 381.75h1.7M298 377.75h1.7M291 368.75h1.7M303 348.75h1.7M297 424.75h1.7M284 336.75h1.7M302 363.75h1.7M289 403.75h1.7M299 366.75h1.7M293 344.75h1.7M291 383.75h1.7M301 402.75h1.7M312 383.75h1.7M305 393.75h1.7M287 394.75h1.7M299 404.75h1.7M301 389.75h1.7M288 377.75h1.7M299 403.75h1.7M303 395.75h1.7M302 425.75h1.7M298 370.75h1.7M302 375.75h1.7M396 355.75h1.7M326 371.75h1.7M293 392.75h1.7M311 348.75h1.7M388 351.75h1.7M338 361.75h1.7M357 350.75h1.7M417 379.75h1.7M377 363.75h1.7M376 405.75h1.7M312 374.75h1.7M378 380.75h1.7M286 432.75h1.7M296 445.75h1.7M287 445.75h1.7M299 455.75h1.7M289 444.75h1.7M294 438.75h1.7M286 417.75h1.7M287 419.75h1.7M281 427.75h1.7M286 409.75h1.7M293 409.75h1.7M303 413.75h1.7M284 433.75h1.7M289 435.75h1.7M298 458.75h1.7M307 420.75h1.7M299 451.75h1.7M290 420.75h1.7M309 461.75h1.7M280 466.75h1.7M231 301.75h1.7M238 296.75h1.7M219 304.75h1.7M198 292.75h1.7M187 303.75h1.7M200 297.75h1.7M160 513.75h1.7M179 496.75h1.7M202 511.75h1.7M178 500.75h1.7M163 502.75h1.7M171 511.75h1.7M180 502.75h1.7M168 514.75h1.7M197 520.75h1.7M170 490.75h1.7M174 507.75h1.7M172 512.75h1.7M159 507.75h1.7M119 527.75h1.7M171 501.75h1.7M182 502.75h1.7" fill="none" stroke-width="1.7" stroke="#ff1010"/>
<path d="M803 477.75h1.7M651 308.75h1.7M684 295.75h1.7M605 372.75h1.7M768 483.75h1.7M779 451.75h1.7M632 386.75h1.7M816 359.75h1.7M735 288.75h1.7M636 362.75h1.7M632 343.75h1.7M761 474.75h1.7M713 497.75h1.7M769 388.75h1.7M619 355.75h1.7M781 464.75h1.7M675 254.75h1.7M644 389.75h1.7M740 487.75h1.7M630 336.75h1.7M643 383.75h1.7M806 323.75h1.7M666 311.75h1.7M818 320.75h1.7M640 488.75h1.7M630 362.75h1.7M732 491.75h1.7M780 384.75h1.7M780 450.75h1.7M766 479.75h1.7M746 412.75h1.7M715 299.75h1.7M696 290.75h1.7M751 429.75h1.7M643 376.75h1.7M679 498.75h1.7M647 387.75h1.7M708 297.75h1.7M676 437.75h1.7M635 396.75h1.7M734 428.75h1.7M753 412.75h1.7M669 277.75h1.7M784 447.75h1.7M733 421.75h1.7M760 389.75h1.7M618 393.75h1.7M637 364.75h1.7M738 409.75h1.7M648 393.75h1.7M637 353.75h1.7M779 401.75h1.7M735 430.75h1.7M751 396.75h1.7M667 403.75h1.7M670 429.75h1.7M790 294.75h1.7M746 490.75h1.7M763 316.75h1.7M767 387.75h1.7M736 410.75h1.7M774 480.75h1.7M757 409.75h1.7M724 302.75h1.7M629 308.75h1.7M712 276.75h1.7M788 451.75h1.7M765 476.75h1.7M682 413.75h1.7M654 321.75h1.7M659 314.75h1.7M779 389.75h1.7M786 437.75h1.7M730 300.75h1.7M681 422.75h1.7M802 393.75h1.7M669 488.75h1.7M694 296.75h1.7M655 483.75h1.7M706 287.75h1.7M642 333.75h1.7M641 371.75h1.7M730 296.75h1.7M620 383.75h1.7M808 342.75h1.7M654 314.75h1.7M790 328.75h1.7M631 353.75h1.7M796 333.75h1.7M639 455.75h1.7M631 330.75h1.7M620 326.75h1.7M610 427.75h1.7M636 486.75h1.7M631 350.75h1.7M606 425.75h1.7M635 439.75h1.7M675 417.75h1.7M618 359.75h1.7M629 418.75h1.7M636 415.75h1.7M656 438.75h1.7M628 344.75h1.7M634 390.75h1.7M628 337.75h1.7M666 421.75h1.7M655 417.75h1.7M663 414.75h1.7M645 380.75h1.7M625 464.75h1.7M660 315.75h1.7M669 405.75h1.7M656 306.75h1.7M616 389.75h1.7M653 423.75h1.7M608 465.75h1.7M639 453.75h1.7M618 432.75h1.7M626 414.75h1.7M640 470.75h1.7M626 377.75h1.7M647 429.75h1.7M623 417.75h1.7M635 290.75h1.7M666 420.75h1.7M624 432.75h1.7M614 443.75h1.7M644 401.75h1.7M620 454.75h1.7M655 398.75h1.7M625 480.75h1.7M621 445.75h1.7M633 419.75h1.7M617 354.75h1.7M628 344.75h1.7M647 411.75h1.7M648 389.75h1.7M607 447.75h1.7M628 393.75h1.7M640 422.75h1.7M657 407.75h1.7M654 435.75h1.7M653 428.75h1.7M628 397.75h1.7M607 394.75h1.7M630 451.75h1.7M629 423.75h1.7M622 519.75h1.7M643 313.75h1.7M636 329.75h1.7M649 387.75h1.7M622 409.75h1.7M653 394.75h1.7M665 409.75h1.7M621 431.75h1.7M620 445.75h1.7M621 435.75h1.7M633 468.75h1.7M625 405.75h1.7M628 393.75h1.7M634 465.75h1.7M619 445.75h1.7M676 426.75h1.7M634 368.75h1.7M647 399.75h1.7M627 481.75h1.7M639 345.75h1.7M689 512.75h1.7M646 470.75h1.7M650 440.75h1.7M607 524.75h1.7M645 442.75h1.7M620 353.75h1.7M649 511.75h1.7M636 413.75h1.7M667 405.75h1.7M649 391.75h1.7M630 417.75h1.7M641 455.75h1.7M671 441.75h1.7M630 307.75h1.7M676 418.75h1.7M624 386.75h1.7M664 427.75h1.7M629 421.75h1.7M636 470.75h1.7M622 396.75h1.7M619 351.75h1.7M677 413.75h1.7M653 410.75h1.7M618 315.75h1.7M660 411.75h1.7M638 410.75h1.7M633 471.75h1.7M654 424.75h1.7M622 459.75h1.7M635 422.75h1.7M635 343.75h1.7M655 436.75h1.7M643 407.75h1.7M627 406.75h1.7M632 415.75h1.7M640 432.75h1.7M664 423.75h1.7M637 399.75h1.7M650 423.75h1.7M645 514.75h1.7M652 456.75h1.7M663 502.75h1.7M652 450.75h1.7M610 360.75h1.7M611 385.75h1.7M623 363.75h1.7M640 403.75h1.7M670 422.75h1.7M631 391.75h1.7M632 436.75h1.7M636 425.75h1.7M641 413.75h1.7M607 355.75h1.7M653 487.75h1.7M640 305.75h1.7M644 314.75h1.7M660 417.75h1.7M665 419.75h1.7M639 342.75h1.7M607 451.75h1.7M643 423.75h1.7M639 510.75h1.7M639 427.75h1.7M644 325.75h1.7M618 342.75h1.7M634 381.75h1.7M820 404.75h1.7M833 341.75h1.7M809 331.75h1.7M798 403.75h1.7M752 400.75h1.7M805 407.75h1.7M834 353.75h1.7M832 377.75h1.7M825 336.75h1.7M819 378.75h1.7M828 402.75h1.7M831 403.75h1.7M831 391.75h1.7M779 404.75h1.7M830 355.75h1.7M799 382.75h1.7M817 354.75h1.7M821 397.75h1.7M806 398.75h1.7M827 352.75h1.7M808 392.75h1.7M815 316.75h1.7M825 441.75h1.7M810 384.75h1.7M800 322.75h1.7M806 385.75h1.7M820 349.75h1.7M823 323.75h1.7M809 389.75h1.7M830 361.75h1.7M838 377.75h1.7M803 383.75h1.7M816 375.75h1.7M787 310.75h1.7M805 409.75h1.7M817 388.75h1.7M820 412.75h1.7M814 353.75h1.7M816 389.75h1.7M805 379.75h1.7M820 377.75h1.7M804 330.75h1.7M847 376.75h1.7M807 386.75h1.7M772 399.75h1.7M819 376.75h1.7M823 414.75h1.7M781 397.75h1.7M820 388.75h1.7M827 391.75h1.7M821 378.75h1.7M815 391.75h1.7M797 386.75h1.7M815 339.75h1.7M809 340.75h1.7M812 400.75h1.7M788 396.75h1.7M804 404.75h1.7M802 337.75h1.7M789 396.75h1.7M799 404.75h1.7M776 305.75h1.7M802 388.75h1.7M787 321.75h1.7M823 353.75h1.7M815 378.75h1.7M810 399.75h1.7M806 387.75h1.7M835 359.75h1.7M927 363.75h1.7M901 376.75h1.7M947 373.75h1.7M896 384.75h1.7M895 398.75h1.7M844 400.75h1.7M888 379.75h1.7M836 397.75h1.7M814 378.75h1.7M863 393.75h1.7M884 369.75h1.7M949 368.75h1.7M883 389.75h1.7M832 380.75h1.7M931 382.75h1.7M856 398.75h1.7M773 402.75h1.7M856 366.75h1.7M893 383.75h1.7M941 368.75h1.7M828 373.75h1.7M793 417.75h1.7M799 433.75h1.7M821 410.75h1.7M790 398.75h1.7M802 432.75h1.7M806 437.75h1.7M807 424.75h1.7M812 450.75h1.7M802 418.75h1.7M822 390.75h1.7M810 444.75h1.7M790 428.75h1.7M796 419.75h1.7M787 431.75h1.7M823 442.75h1.7M798 429.75h1.7M804 421.75h1.7M804 403.75h1.7M791 434.75h1.7M804 439.75h1.7M795 455.75h1.7M806 419.75h1.7M799 451.75h1.7M802 406.75h1.7M795 417.75h1.7M806 426.75h1.7M809 428.75h1.7M814 425.75h1.7M789 425.75h1.7M805 439.75h1.7M786 434.75h1.7M794 416.75h1.7M810 417.75h1.7M817 431.75h1.7M793 428.75h1.7M791 439.75h1.7M805 419.75h1.7M794 426.75h1.7M787 429.75h1.7M795 411.75h1.7M808 412.75h1.7M804 429.75h1.7M798 433.75h1.7M790 433.75h1.7M808 423.75h1.7M723 294.75h1.7M722 299.75h1.7M715 294.75h1.7M660 288.75h1.7M708 298.75h1.7M726 281.75h1.7M685 285.75h1.7M699 294.75h1.7M673 293.75h1.7M710 288.75h1.7M667 287.75h1.7M711 294.75h1.7M740 292.75h1.7M687 302.75h1.7M767 306.75h1.7M719 292.75h1.7M728 299.75h1.7M808 474.75h1.7M777 467.75h1.7M832 460.75h1.7M771 467.75h1.7M793 463.75h1.7M822 453.75h1.7M809 474.75h1.7M797 463.75h1.7M608 499.75h1.7M626 490.75h1.7M644 503.75h1.7M675 498.75h1.7M669 491.75h1.7M665 490.75h1.7M655 501.75h1.7M632 490.75h1.7M647 493.75h1.7M642 505.75h1.7M684 498.75h1.7M607 501.75h1.7M702 293.75h1.7M692 248.75h1.7M689 279.75h1.7M720 229.75h1.7" fill="none" stroke-width="1.7" stroke="#1010ff"/>
<g transform="translate(0 0)">
<rect x="115.5" y="140.75" width="432.5" height="431.75" fill="none" stroke-width="1.5"/>
<path d="M505 572.5v11.3M115.5 180h-11.3M401.25 572.5v11.3M115.5 283.96h-11.3M282.7 572.5v11.3M115.5 402.74h-11.3M141.5 572.5v11.3M115.5 544.23h-11.3" fill="none" stroke-width="2.8"/>
<path d="M434.41 572.5v6.2M115.5 250.73h-6.2M321.52 572.5v6.2M115.5 363.85h-6.2M452.62 572.5v6.2M115.5 232.49h-6.2M342.27 572.5v6.2M115.5 343.06h-6.2M465.32 572.5v6.2M115.5 219.76h-6.2M356.65 572.5v6.2M115.5 328.64h-6.2M483 572.5v6.2M115.5 202.04h-6.2M376.58 572.5v6.2M115.5 308.67h-6.2M489.67 572.5v6.2M115.5 195.36h-6.2M384.07 572.5v6.2M115.5 301.17h-6.2M495.42 572.5v6.2M115.5 189.59h-6.2M390.53 572.5v6.2M115.5 294.7h-6.2M500.48 572.5v6.2M115.5 184.52h-6.2M396.2 572.5v6.2M115.5 289.02h-6.2M277.75 572.5v6.2M115.5 407.7h-6.2M272.5 572.5v6.2M115.5 412.97h-6.2M265.6 572.5v6.2M115.5 419.88h-6.2M258.75 572.5v6.2M115.5 426.74h-6.2M245 572.5v6.2M115.5 440.52h-6.2M237.1 572.5v6.2M115.5 448.44h-6.2M227.75 572.5v6.2M115.5 457.8h-6.2M196.25 572.5v6.2M115.5 489.37h-6.2M187.75 572.5v6.2M115.5 497.88h-6.2M181.25 572.5v6.2M115.5 504.4h-6.2M166 572.5v6.2M115.5 519.68h-6.2M158.75 572.5v6.2M115.5 526.94h-6.2M151.9 572.5v6.2M115.5 533.81h-6.2M147.25 572.5v6.2M115.5 538.47h-6.2M536 572.5v6.2M115.5 148.94h-6.2M475.08 572.5v8M115.5 209.98h-8M367.67 572.5v8M115.5 317.61h-8M251.9 572.5v8M115.5 433.61h-8M172.5 572.5v8M115.5 513.16h-8" fill="none" stroke-width="1.5"/>
<path d="M202.5 572.5 L222.5 572.5 L222.5 583.8 L219.5 583.8 L219.5 579.7 L217.1 578.9 L214.1 583.8 L209.1 583.8 L208.1 578.9 L205.4 579.7 L205.4 583.8 L202.5 583.8Z" stroke="none"/>
<path d="M115.5 463.06 L115.5 483.06 L104.2 483.06 L104.2 480.06 L108.3 480.06 L109.1 477.67 L104.2 474.67 L104.2 469.67 L109.1 468.67 L108.3 465.96 L104.2 465.96 L104.2 463.06Z" stroke="none"/>
<text transform="translate(139.4 609.5) scale(0.79 1)" font-size="16.2" fill="#111">-10</text>
<text transform="translate(160.2 598.9) scale(0.93 1)" font-size="15" fill="#111">3</text>
<text transform="translate(284.4 609.5) scale(0.79 1)" font-size="16.2" fill="#111">10</text>
<text transform="translate(299.6 598.9) scale(0.93 1)" font-size="15" fill="#111">3</text>
<text transform="translate(402.6 609.5) scale(0.79 1)" font-size="16.2" fill="#111">10</text>
<text transform="translate(417.8 598.9) scale(0.93 1)" font-size="15" fill="#111">4</text>
<text transform="translate(505.9 609.5) scale(0.79 1)" font-size="16.2" fill="#111">10</text>
<text transform="translate(521.1 598.9) scale(0.93 1)" font-size="15" fill="#111">5</text>
<text transform="translate(216.6 609.5) scale(0.79 1)" font-size="16.2" fill="#111">0</text>
<text transform="translate(86 190.1) scale(0.79 1)" font-size="16.2" fill="#111" text-anchor="end">10</text>
<text transform="translate(86.9 179.5) scale(0.93 1)" font-size="15" fill="#111">5</text>
<text transform="translate(86 294.35) scale(0.79 1)" font-size="16.2" fill="#111" text-anchor="end">10</text>
<text transform="translate(86.9 283.75) scale(0.93 1)" font-size="15" fill="#111">4</text>
<text transform="translate(86 412.85) scale(0.79 1)" font-size="16.2" fill="#111" text-anchor="end">10</text>
<text transform="translate(86.9 402.25) scale(0.93 1)" font-size="15" fill="#111">3</text>
<text transform="translate(86 554.1) scale(0.79 1)" font-size="16.2" fill="#111" text-anchor="end">-10</text>
<text transform="translate(86.9 543.5) scale(0.93 1)" font-size="15" fill="#111">3</text>
<text transform="translate(86.2 478.6) scale(0.79 1)" font-size="16.2" fill="#111" text-anchor="end">0</text>
<path d="M289.5 265.5H472V398.75H289.5Z" fill="none" stroke-width="1.5"/>
<line x1="472.3" y1="265.5" x2="472.3" y2="398.75" stroke-width="2.6"/>
</g>
<g transform="translate(486 2.8)">
<rect x="115.5" y="140.75" width="432.5" height="431.75" fill="none" stroke-width="1.5"/>
<path d="M505 572.5v11.3M115.5 180h-11.3M401.25 572.5v11.3M115.5 283.96h-11.3M282.7 572.5v11.3M115.5 402.74h-11.3M141.5 572.5v11.3M115.5 544.23h-11.3" fill="none" stroke-width="2.8"/>
<path d="M434.41 572.5v6.2M115.5 250.73h-6.2M321.52 572.5v6.2M115.5 363.85h-6.2M452.62 572.5v6.2M115.5 232.49h-6.2M342.27 572.5v6.2M115.5 343.06h-6.2M465.32 572.5v6.2M115.5 219.76h-6.2M356.65 572.5v6.2M115.5 328.64h-6.2M483 572.5v6.2M115.5 202.04h-6.2M376.58 572.5v6.2M115.5 308.67h-6.2M489.67 572.5v6.2M115.5 195.36h-6.2M384.07 572.5v6.2M115.5 301.17h-6.2M495.42 572.5v6.2M115.5 189.59h-6.2M390.53 572.5v6.2M115.5 294.7h-6.2M500.48 572.5v6.2M115.5 184.52h-6.2M396.2 572.5v6.2M115.5 289.02h-6.2M277.75 572.5v6.2M115.5 407.7h-6.2M272.5 572.5v6.2M115.5 412.97h-6.2M265.6 572.5v6.2M115.5 419.88h-6.2M258.75 572.5v6.2M115.5 426.74h-6.2M245 572.5v6.2M115.5 440.52h-6.2M237.1 572.5v6.2M115.5 448.44h-6.2M227.75 572.5v6.2M115.5 457.8h-6.2M196.25 572.5v6.2M115.5 489.37h-6.2M187.75 572.5v6.2M115.5 497.88h-6.2M181.25 572.5v6.2M115.5 504.4h-6.2M166 572.5v6.2M115.5 519.68h-6.2M158.75 572.5v6.2M115.5 526.94h-6.2M151.9 572.5v6.2M115.5 533.81h-6.2M147.25 572.5v6.2M115.5 538.47h-6.2M536 572.5v6.2M115.5 148.94h-6.2M475.08 572.5v8M115.5 209.98h-8M367.67 572.5v8M115.5 317.61h-8M251.9 572.5v8M115.5 433.61h-8M172.5 572.5v8M115.5 513.16h-8" fill="none" stroke-width="1.5"/>
<path d="M202.5 572.5 L222.5 572.5 L222.5 583.8 L219.5 583.8 L219.5 579.7 L217.1 578.9 L214.1 583.8 L209.1 583.8 L208.1 578.9 L205.4 579.7 L205.4 583.8 L202.5 583.8Z" stroke="none"/>
<path d="M115.5 463.06 L115.5 483.06 L104.2 483.06 L104.2 480.06 L108.3 480.06 L109.1 477.67 L104.2 474.67 L104.2 469.67 L109.1 468.67 L108.3 465.96 L104.2 465.96 L104.2 463.06Z" stroke="none"/>
<text transform="translate(139.4 609.5) scale(0.79 1)" font-size="16.2" fill="#111">-10</text>
<text transform="translate(160.2 598.9) scale(0.93 1)" font-size="15" fill="#111">3</text>
<text transform="translate(284.4 609.5) scale(0.79 1)" font-size="16.2" fill="#111">10</text>
<text transform="translate(299.6 598.9) scale(0.93 1)" font-size="15" fill="#111">3</text>
<text transform="translate(402.6 609.5) scale(0.79 1)" font-size="16.2" fill="#111">10</text>
<text transform="translate(417.8 598.9) scale(0.93 1)" font-size="15" fill="#111">4</text>
<text transform="translate(505.9 609.5) scale(0.79 1)" font-size="16.2" fill="#111">10</text>
<text transform="translate(521.1 598.9) scale(0.93 1)" font-size="15" fill="#111">5</text>
<text transform="translate(216.6 609.5) scale(0.79 1)" font-size="16.2" fill="#111">0</text>
<text transform="translate(86 190.1) scale(0.79 1)" font-size="16.2" fill="#111" text-anchor="end">10</text>
<text transform="translate(86.9 179.5) scale(0.93 1)" font-size="15" fill="#111">5</text>
<text transform="translate(86 294.35) scale(0.79 1)" font-size="16.2" fill="#111" text-anchor="end">10</text>
<text transform="translate(86.9 283.75) scale(0.93 1)" font-size="15" fill="#111">4</text>
<text transform="translate(86 412.85) scale(0.79 1)" font-size="16.2" fill="#111" text-anchor="end">10</text>
<text transform="translate(86.9 402.25) scale(0.93 1)" font-size="15" fill="#111">3</text>
<text transform="translate(86 554.1) scale(0.79 1)" font-size="16.2" fill="#111" text-anchor="end">-10</text>
<text transform="translate(86.9 543.5) scale(0.93 1)" font-size="15" fill="#111">3</text>
<text transform="translate(86.2 478.6) scale(0.79 1)" font-size="16.2" fill="#111" text-anchor="end">0</text>
<path d="M289.5 265.5H472V398.75H289.5Z" fill="none" stroke-width="1.5"/>
<line x1="472.3" y1="265.5" x2="472.3" y2="398.75" stroke-width="2.6"/>
</g>
<text x="121.72" y="176.75" font-size="27.75">PBS</text>
<text x="617.07" y="174.25" font-size="27.08">J8-Lipo-DT-PHAD</text>
<text x="358.35" y="425.75" font-size="17.91" fill="#222">IL17A+ CD4+</text>
<text x="396.07" y="450.75" font-size="18.83" fill="#222">1.20</text>
<text x="852.11" y="437.5" font-size="17.87" fill="#222">IL17A+ CD4+</text>
<text x="890.6" y="463" font-size="18.07" fill="#222">4.25</text>
<path d="M53.25 345V627.5H910" fill="none" stroke-width="1.2" stroke="#111"/>
<path d="M53.25 332.5l6 13.5h-12z" stroke="none"/>
<path d="M921.5 627.5l-13.5 6.3v-12.6z" stroke="none"/>
<text x="61" y="320.5" font-size="29.3" transform="rotate(-90 61 320.5)">CD4</text>
<text x="922.6" y="638.25" font-size="31.57">IL17A</text>
<line x1="1259.25" y1="172.2" x2="1259.25" y2="565" stroke-width="1.6"/>
<line x1="1243.5" y1="564" x2="1259.25" y2="564" stroke-width="1.6"/>
<text x="1238.8" y="574.2" font-size="28.6" text-anchor="end">0</text>
<line x1="1243.5" y1="498.85" x2="1259.25" y2="498.85" stroke-width="1.6"/>
<text x="1238.8" y="509.05" font-size="28.6" text-anchor="end">1</text>
<line x1="1243.5" y1="433.7" x2="1259.25" y2="433.7" stroke-width="1.6"/>
<text x="1238.8" y="443.9" font-size="28.6" text-anchor="end">2</text>
<line x1="1243.5" y1="368.55" x2="1259.25" y2="368.55" stroke-width="1.6"/>
<text x="1238.8" y="378.75" font-size="28.6" text-anchor="end">3</text>
<line x1="1243.5" y1="303.4" x2="1259.25" y2="303.4" stroke-width="1.6"/>
<text x="1238.8" y="313.6" font-size="28.6" text-anchor="end">4</text>
<line x1="1243.5" y1="238.25" x2="1259.25" y2="238.25" stroke-width="1.6"/>
<text x="1238.8" y="248.45" font-size="28.6" text-anchor="end">5</text>
<line x1="1243.5" y1="173.1" x2="1259.25" y2="173.1" stroke-width="1.6"/>
<text x="1238.8" y="183.3" font-size="28.6" text-anchor="end">6</text>
<line x1="1243" y1="564" x2="1650.5" y2="564" stroke-width="2.2"/>
<line x1="1270.4" y1="565.3" x2="1650" y2="565.3" stroke-width="2.6" stroke-linecap="round" stroke-dasharray="0.01 13.6"/>
<line x1="1453.75" y1="564" x2="1453.75" y2="579" stroke-width="1.6"/>
<line x1="1291.25" y1="516.25" x2="1291.25" y2="528.75" stroke-width="1.1" stroke="#333"/>
<line x1="1283.45" y1="516.25" x2="1299.05" y2="516.25" stroke-width="1.1" stroke="#333"/>
<rect x="1275.25" y="528.75" width="32" height="35.25" fill="#e03550" stroke-width="1.1" stroke="#222"/>
<line x1="1332.25" y1="250" x2="1332.25" y2="324.25" stroke-width="1.1" stroke="#333"/>
<line x1="1324.45" y1="250" x2="1340.05" y2="250" stroke-width="1.1" stroke="#333"/>
<line x1="1332.25" y1="530.25" x2="1332.25" y2="549.5" stroke-width="1.1" stroke="#333"/>
<line x1="1324.45" y1="549.5" x2="1340.05" y2="549.5" stroke-width="1.1" stroke="#333"/>
<rect x="1316.25" y="324.25" width="32" height="206" fill="#6666ff" stroke-width="1.1" stroke="#222"/>
<line x1="1316.25" y1="490.25" x2="1348.25" y2="490.25" stroke-width="1.1" stroke="#222"/>
<line x1="1373.25" y1="470" x2="1373.25" y2="505.75" stroke-width="1.1" stroke="#333"/>
<line x1="1365.45" y1="470" x2="1381.05" y2="470" stroke-width="1.1" stroke="#333"/>
<rect x="1357.25" y="505.75" width="32" height="58.25" fill="#878787" stroke-width="1.1" stroke="#222"/>
<line x1="1357.25" y1="542.5" x2="1389.25" y2="542.5" stroke-width="1.1" stroke="#222"/>
<line x1="1413.75" y1="544.5" x2="1413.75" y2="548.25" stroke-width="1.1" stroke="#333"/>
<line x1="1405.95" y1="544.5" x2="1421.55" y2="544.5" stroke-width="1.1" stroke="#333"/>
<rect x="1397.75" y="548.25" width="32" height="15.75" fill="#0f5a10" stroke-width="1.1" stroke="#222"/>
<line x1="1397.75" y1="557" x2="1429.75" y2="557" stroke-width="1.1" stroke="#222"/>
<line x1="1454.75" y1="547.75" x2="1454.75" y2="550.25" stroke-width="1.1" stroke="#333"/>
<line x1="1446.95" y1="547.75" x2="1462.55" y2="547.75" stroke-width="1.1" stroke="#333"/>
<rect x="1438.75" y="550.25" width="32" height="13.75" fill="#c4a00e" stroke-width="1.1" stroke="#222"/>
<line x1="1495.6" y1="535.75" x2="1495.6" y2="550" stroke-width="1.1" stroke="#333"/>
<line x1="1487.8" y1="535.75" x2="1503.4" y2="535.75" stroke-width="1.1" stroke="#333"/>
<rect x="1479.6" y="550" width="32" height="14" fill="#85003f" stroke-width="1.1" stroke="#222"/>
<line x1="1536.5" y1="401.25" x2="1536.5" y2="478.75" stroke-width="1.1" stroke="#333"/>
<line x1="1528.7" y1="401.25" x2="1544.3" y2="401.25" stroke-width="1.1" stroke="#333"/>
<rect x="1520.5" y="478.75" width="32" height="85.25" fill="#cc66ff" stroke-width="1.1" stroke="#222"/>
<rect x="1561.25" y="551.5" width="32" height="12.5" fill="#00ffe8" stroke-width="1.1" stroke="#222"/>
<line x1="1561.25" y1="557" x2="1593.25" y2="557" stroke-width="1.1" stroke="#222"/>
<rect x="1601.8" y="551.6" width="32" height="12.4" fill="#80e63f" stroke-width="1.1" stroke="#222"/>
<path d="M1285.75 387V221.75H1332V238.75" fill="none" stroke-width="1.6"/>
<path d="M1342.5 193.75V172H1413.75V363.75" fill="none" stroke-width="1.6"/>
<path d="M1342.5 144.25V133.25H1454.5V363.75" fill="none" stroke-width="1.6"/>
<path d="M1342.5 107.5V99.25H1484.25V363.75" fill="none" stroke-width="1.6"/>
<path d="M1342.5 85.75V68H1577.5V465.75" fill="none" stroke-width="1.6"/>
<path d="M1342.5 60V36.75H1616.5V469.4" fill="none" stroke-width="1.6"/>
<text x="1457.86" y="52.56" font-size="47.5" font-weight="bold">**</text>
<text x="1448.61" y="82.56" font-size="47.5" font-weight="bold">*</text>
<text x="1395.61" y="113.06" font-size="47.5" font-weight="bold">**</text>
<text x="1377.86" y="146.81" font-size="47.5" font-weight="bold">**</text>
<text x="1356.61" y="185.81" font-size="47.5" font-weight="bold">**</text>
<text x="1297.86" y="235.81" font-size="47.5" font-weight="bold">*</text>
<text x="1415.03" y="610" font-size="29.62">J8-DT</text>
<text x="1337.49" y="658.25" font-size="31.4" textLength="236" lengthAdjust="spacingAndGlyphs"><tspan font-style="italic">ex-vivo</tspan> stimulant</text>
<text x="1157.5" y="453.5" font-size="32.5" transform="rotate(-90 1157.5 453.5)">IL-17A<tspan font-size="22" dy="-13.5">+</tspan><tspan dy="13.5">cells</tspan></text>
<text x="1202.5" y="489.5" font-size="32.5" transform="rotate(-90 1202.5 489.5)">(% of total CD4<tspan font-size="22" dy="-13.5">+</tspan><tspan dy="13.5">)</tspan></text>
<line x1="177.5" y1="847.7" x2="177.5" y2="1184.2" stroke-width="1.6"/>
<line x1="164.5" y1="1183.25" x2="177.5" y2="1183.25" stroke-width="1.6"/>
<text x="160.2" y="1192.35" font-size="25.8" text-anchor="end">0</text>
<line x1="164.5" y1="1135.43" x2="177.5" y2="1135.43" stroke-width="1.6"/>
<text x="160.2" y="1144.53" font-size="25.8" text-anchor="end">250</text>
<line x1="164.5" y1="1087.61" x2="177.5" y2="1087.61" stroke-width="1.6"/>
<text x="160.2" y="1096.71" font-size="25.8" text-anchor="end">500</text>
<line x1="164.5" y1="1039.79" x2="177.5" y2="1039.79" stroke-width="1.6"/>
<text x="160.2" y="1048.89" font-size="25.8" text-anchor="end">750</text>
<line x1="164.5" y1="991.97" x2="177.5" y2="991.97" stroke-width="1.6"/>
<text x="160.2" y="1001.07" font-size="25.8" text-anchor="end">1000</text>
<line x1="164.5" y1="944.15" x2="177.5" y2="944.15" stroke-width="1.6"/>
<text x="160.2" y="953.25" font-size="25.8" text-anchor="end">1250</text>
<line x1="164.5" y1="896.33" x2="177.5" y2="896.33" stroke-width="1.6"/>
<text x="160.2" y="905.43" font-size="25.8" text-anchor="end">1500</text>
<line x1="164.5" y1="848.51" x2="177.5" y2="848.51" stroke-width="1.6"/>
<text x="160.2" y="857.61" font-size="25.8" text-anchor="end">1750</text>
<line x1="163.75" y1="1183.25" x2="975" y2="1183.25" stroke-width="2.2"/>
<line x1="167.6" y1="1184.25" x2="975" y2="1184.25" stroke-width="2.2" stroke-linecap="round" stroke-dasharray="0.01 10.22"/>
<line x1="431.75" y1="852.5" x2="431.75" y2="1178" stroke-width="3.1" stroke-linecap="round" stroke-dasharray="0.01 10.1"/>
<line x1="707.5" y1="852.5" x2="707.5" y2="1178" stroke-width="3.1" stroke-linecap="round" stroke-dasharray="0.01 10.1"/>
<text x="43.75" y="1117.5" font-size="28.05" transform="rotate(-90 43.75 1117.5)">Secreted IL-17A</text>
<text x="75" y="1157.9" font-size="28" transform="rotate(-90 75 1157.9)">from lung cells (pg/mL)</text>
<line x1="306.75" y1="1183.25" x2="306.75" y2="1196.3" stroke-width="1.6"/>
<text x="307.15" y="1223.4" font-size="25.6" text-anchor="middle">J8-DT</text>
<line x1="575" y1="1183.25" x2="575" y2="1196.3" stroke-width="1.6"/>
<text x="575.4" y="1223.4" font-size="25.6" text-anchor="middle">J8</text>
<line x1="843.75" y1="1183.25" x2="843.75" y2="1196.3" stroke-width="1.6"/>
<text x="844.15" y="1223.4" font-size="25.6" text-anchor="middle">DT</text>
<text x="465.15" y="1264.5" font-size="27.6"><tspan font-style="italic">ex-vivo</tspan> stimulants</text>
<rect x="187.7" y="1177" width="17.6" height="6.25" fill="#e03550" stroke-width="1.8"/>
<rect x="215.2" y="971.5" width="17.6" height="211.75" fill="#6666ff" stroke-width="1.8"/>
<path d="M224 952.75V989.75M219.8 952.75h8.4M219.8 989.75h8.4" fill="none" stroke-width="1.5"/>
<rect x="242.8" y="1127" width="17.6" height="56.25" fill="#878787" stroke-width="1.8"/>
<rect x="270.45" y="1178" width="17.6" height="5.25" fill="#0f5a10" stroke-width="1.8"/>
<rect x="298.45" y="1132.5" width="17.6" height="50.75" fill="#c4a00e" stroke-width="1.8"/>
<path d="M307.25 1123.75V1141M303.05 1123.75h8.4M303.05 1141h8.4" fill="none" stroke-width="1.5"/>
<rect x="326.45" y="1162.5" width="17.6" height="20.75" fill="#e07fd0" stroke-width="1.8"/>
<path d="M335.25 1153V1172M331.05 1153h8.4M331.05 1172h8.4" fill="none" stroke-width="1.5"/>
<rect x="353.95" y="1168.75" width="17.6" height="14.5" fill="#85003f" stroke-width="1.8"/>
<path d="M362.75 1161V1176M358.55 1161h8.4M358.55 1176h8.4" fill="none" stroke-width="1.5"/>
<rect x="381.45" y="1178" width="17.6" height="5.25" fill="#00ffe8" stroke-width="1.8"/>
<rect x="409.45" y="1178" width="17.6" height="5.25" fill="#80e63f" stroke-width="1.8"/>
<rect x="455.8" y="1178.25" width="17.6" height="5" fill="#e03550" stroke-width="1.8"/>
<rect x="483.45" y="1070.75" width="17.6" height="112.5" fill="#6666ff" stroke-width="1.8"/>
<path d="M492.25 1046V1095.75M488.05 1046h8.4M488.05 1095.75h8.4" fill="none" stroke-width="1.5"/>
<rect x="511.2" y="1133" width="17.6" height="50.25" fill="#878787" stroke-width="1.8"/>
<rect x="538.7" y="1179" width="17.6" height="4.25" fill="#0f5a10" stroke-width="1.8"/>
<rect x="566.7" y="1127" width="17.6" height="56.25" fill="#c4a00e" stroke-width="1.8"/>
<path d="M575.5 1108.75V1145M571.3 1108.75h8.4M571.3 1145h8.4" fill="none" stroke-width="1.5"/>
<rect x="594.3" y="1175" width="17.6" height="8.25" fill="#e07fd0" stroke-width="1.8"/>
<path d="M603.1 1170V1180M598.9 1170h8.4M598.9 1180h8.4" fill="none" stroke-width="1.5"/>
<rect x="622.2" y="1175.5" width="17.6" height="7.75" fill="#85003f" stroke-width="1.8"/>
<path d="M631 1168V1183M626.8 1168h8.4M626.8 1183h8.4" fill="none" stroke-width="1.5"/>
<rect x="649.95" y="1178" width="17.6" height="5.25" fill="#00ffe8" stroke-width="1.8"/>
<rect x="677.8" y="1178" width="17.6" height="5.25" fill="#80e63f" stroke-width="1.8"/>
<rect x="723.95" y="1178.25" width="17.6" height="5" fill="#e03550" stroke-width="1.8"/>
<rect x="751.8" y="1068.25" width="17.6" height="115" fill="#6666ff" stroke-width="1.8"/>
<path d="M760.6 1044.25V1090.75M756.4 1044.25h8.4M756.4 1090.75h8.4" fill="none" stroke-width="1.5"/>
<rect x="779.2" y="1147.5" width="17.6" height="35.75" fill="#878787" stroke-width="1.8"/>
<rect x="806.7" y="1179" width="17.6" height="4.25" fill="#0f5a10" stroke-width="1.8"/>
<rect x="834.95" y="1133.25" width="17.6" height="50" fill="#c4a00e" stroke-width="1.8"/>
<path d="M843.75 1112V1152.5M839.55 1112h8.4M839.55 1152.5h8.4" fill="none" stroke-width="1.5"/>
<rect x="862.2" y="1176.25" width="17.6" height="7" fill="#e07fd0" stroke-width="1.8"/>
<path d="M871 1165V1181M866.8 1165h8.4M866.8 1181h8.4" fill="none" stroke-width="1.5"/>
<rect x="890.2" y="1173.75" width="17.6" height="9.5" fill="#85003f" stroke-width="1.8"/>
<path d="M899 1167V1181M894.8 1167h8.4M894.8 1181h8.4" fill="none" stroke-width="1.5"/>
<rect x="919.2" y="1178" width="17.6" height="5.25" fill="#00ffe8" stroke-width="1.8"/>
<rect x="946.5" y="1178" width="17.6" height="5.25" fill="#80e63f" stroke-width="1.8"/>
<g class="pt">
<circle cx="191.25" cy="1173.25" r="5.2"/>
<circle cx="200" cy="1171.25" r="5.2"/>
<circle cx="223.75" cy="942" r="5.2"/>
<circle cx="223.75" cy="966" r="5.2"/>
<circle cx="223.75" cy="1005.25" r="5.2"/>
<circle cx="251.25" cy="1122" r="5.2"/>
<circle cx="251.25" cy="1132" r="5.2"/>
<circle cx="275.75" cy="1174.25" r="5.2"/>
<circle cx="283.75" cy="1174.25" r="5.2"/>
<circle cx="307" cy="1117" r="5.2"/>
<circle cx="307" cy="1135" r="5.2"/>
<circle cx="307" cy="1145.5" r="5.2"/>
<circle cx="335" cy="1144.5" r="5.2"/>
<circle cx="338.75" cy="1167" r="5.2"/>
<circle cx="330.75" cy="1174.5" r="5.2"/>
<circle cx="362.5" cy="1160" r="5.2"/>
<circle cx="362.5" cy="1175.5" r="5.2"/>
<circle cx="385.75" cy="1174.25" r="5.2"/>
<circle cx="394.5" cy="1174.25" r="5.2"/>
<circle cx="413.75" cy="1174.25" r="5.2"/>
<circle cx="422.5" cy="1174.25" r="5.2"/>
<circle cx="460" cy="1174.25" r="5.2"/>
<circle cx="468.75" cy="1174.25" r="5.2"/>
<circle cx="488" cy="1040.5" r="5.2"/>
<circle cx="496.25" cy="1050" r="5.2"/>
<circle cx="492" cy="1120.75" r="5.2"/>
<circle cx="519.5" cy="1127" r="5.2"/>
<circle cx="519.5" cy="1138.25" r="5.2"/>
<circle cx="543.25" cy="1181.25" r="5.2"/>
<circle cx="551.75" cy="1175" r="5.2"/>
<circle cx="575.5" cy="1091.75" r="5.2"/>
<circle cx="580" cy="1140.75" r="5.2"/>
<circle cx="570.75" cy="1147" r="5.2"/>
<circle cx="598.75" cy="1167.5" r="5.2"/>
<circle cx="607.5" cy="1170.75" r="5.2"/>
<circle cx="598.75" cy="1180" r="5.2"/>
<circle cx="630.75" cy="1166.25" r="5.2"/>
<circle cx="630.75" cy="1182.5" r="5.2"/>
<circle cx="654.25" cy="1174.25" r="5.2"/>
<circle cx="662.5" cy="1174.25" r="5.2"/>
<circle cx="682" cy="1174.25" r="5.2"/>
<circle cx="690.75" cy="1174.25" r="5.2"/>
<circle cx="728.25" cy="1174.25" r="5.2"/>
<circle cx="737" cy="1174.25" r="5.2"/>
<circle cx="760.5" cy="1034.5" r="5.2"/>
<circle cx="760.5" cy="1055.75" r="5.2"/>
<circle cx="760.5" cy="1112.5" r="5.2"/>
<circle cx="783.75" cy="1148" r="5.2"/>
<circle cx="792.5" cy="1144.5" r="5.2"/>
<circle cx="811.75" cy="1181.25" r="5.2"/>
<circle cx="820" cy="1174.25" r="5.2"/>
<circle cx="843.75" cy="1092.5" r="5.2"/>
<circle cx="843.75" cy="1143.25" r="5.2"/>
<circle cx="843.75" cy="1162.5" r="5.2"/>
<circle cx="871.25" cy="1158.75" r="5.2"/>
<circle cx="875.5" cy="1172.5" r="5.2"/>
<circle cx="867" cy="1175" r="5.2"/>
<circle cx="899.25" cy="1165.75" r="5.2"/>
<circle cx="899.25" cy="1181.25" r="5.2"/>
<circle cx="923.5" cy="1174.25" r="5.2"/>
<circle cx="932.5" cy="1174.25" r="5.2"/>
<circle cx="950.5" cy="1174.25" r="5.2"/>
<circle cx="959.5" cy="1174.25" r="5.2"/>
</g>
<path d="M195.75 991V935.25H224.75" fill="none" stroke-width="1.5"/>
<path d="M224.75 901.5V856.4H760.75V901.75" fill="none" stroke-width="1.5"/>
<path d="M224.75 883.3H493V916.75" fill="none" stroke-width="1.5"/>
<path d="M224.75 936.5V909H335.5V1033.75" fill="none" stroke-width="1.5"/>
<path d="M251.25 1076.5V1033.9H418.75V1076.5" fill="none" stroke-width="1.5"/>
<path d="M462.7 1093.5V1006.3H494.25" fill="none" stroke-width="1.5"/>
<path d="M494.25 1033.75V925H641.25V1011.5" fill="none" stroke-width="1.5"/>
<path d="M603 1024.25V1011.75H686.75V1024.25" fill="none" stroke-width="1.5"/>
<path d="M494.25 960H575.5V1027.5" fill="none" stroke-width="1.5"/>
<path d="M494.25 984.5H547.5V1078" fill="none" stroke-width="1.5"/>
<path d="M494.25 1012.5H517.5V1088.25" fill="none" stroke-width="1.5"/>
<path d="M729.25 1088.75V1004.5H760.5" fill="none" stroke-width="1.5"/>
<path d="M760.5 1030V921.25H923.5V993.5" fill="none" stroke-width="1.5"/>
<path d="M881.2 1006.6V994H965.2V1006.6" fill="none" stroke-width="1.5"/>
<path d="M760.5 945H842.5V1050.5" fill="none" stroke-width="1.5"/>
<path d="M760.5 981.25H813.75V1075.5" fill="none" stroke-width="1.5"/>
<path d="M760.5 1012.5H790V1088.75" fill="none" stroke-width="1.5"/>
<text x="178.29" y="943.67" font-size="28.6" fill="#0000ff" textLength="45.47" lengthAdjust="spacing" style="stroke:#0000ff;stroke-width:0.45px">****</text>
<text x="258.29" y="916.67" font-size="28.6" fill="#0000ff" textLength="45.97" lengthAdjust="spacing" style="stroke:#0000ff;stroke-width:0.45px">****</text>
<text x="342.54" y="890.67" font-size="28.6" fill="#0000ff" textLength="46.72" lengthAdjust="spacing" style="stroke:#0000ff;stroke-width:0.45px">****</text>
<text x="465.29" y="864.77" font-size="28.6" fill="#0000ff" textLength="47.22" lengthAdjust="spacing" style="stroke:#0000ff;stroke-width:0.45px">****</text>
<text x="445.54" y="1013.57" font-size="28.6" fill="#0000ff" textLength="46.47" lengthAdjust="spacing" style="stroke:#0000ff;stroke-width:0.45px">****</text>
<text x="542.54" y="932.67" font-size="28.6" fill="#0000ff" textLength="47.22" lengthAdjust="spacing" style="stroke:#0000ff;stroke-width:0.45px">****</text>
<text x="529.04" y="967.92" font-size="28.6" fill="#0000ff" style="stroke:#0000ff;stroke-width:0.45px">*</text>
<text x="497.79" y="992.17" font-size="28.6" fill="#0000ff" textLength="46.97" lengthAdjust="spacing" style="stroke:#0000ff;stroke-width:0.45px">****</text>
<text x="499.54" y="1020.17" font-size="28.6" fill="#0000ff" style="stroke:#0000ff;stroke-width:0.45px">*</text>
<text x="712.04" y="1011.67" font-size="28.6" fill="#0000ff" textLength="47.22" lengthAdjust="spacing" style="stroke:#0000ff;stroke-width:0.45px">****</text>
<text x="816.54" y="928.42" font-size="28.6" fill="#0000ff" textLength="46.97" lengthAdjust="spacing" style="stroke:#0000ff;stroke-width:0.45px">****</text>
<text x="788.29" y="953.42" font-size="28.6" fill="#0000ff" textLength="22.97" lengthAdjust="spacing" style="stroke:#0000ff;stroke-width:0.45px">**</text>
<text x="764.54" y="990.17" font-size="28.6" fill="#0000ff" textLength="46.72" lengthAdjust="spacing" style="stroke:#0000ff;stroke-width:0.45px">****</text>
<text x="764.54" y="1020.17" font-size="28.6" fill="#0000ff" textLength="23.47" lengthAdjust="spacing" style="stroke:#0000ff;stroke-width:0.45px">**</text>
<line x1="1201.75" y1="850" x2="1201.75" y2="1185.2" stroke-width="1.6"/>
<line x1="1188.75" y1="1184.25" x2="1201.75" y2="1184.25" stroke-width="1.6"/>
<text x="1183.4" y="1193.35" font-size="25.8" text-anchor="end">0</text>
<line x1="1188.75" y1="1100.85" x2="1201.75" y2="1100.85" stroke-width="1.6"/>
<text x="1183.4" y="1109.95" font-size="25.8" text-anchor="end">20</text>
<line x1="1188.75" y1="1017.45" x2="1201.75" y2="1017.45" stroke-width="1.6"/>
<text x="1183.4" y="1026.55" font-size="25.8" text-anchor="end">40</text>
<line x1="1188.75" y1="934.05" x2="1201.75" y2="934.05" stroke-width="1.6"/>
<text x="1183.4" y="943.15" font-size="25.8" text-anchor="end">60</text>
<line x1="1188.75" y1="850.65" x2="1201.75" y2="850.65" stroke-width="1.6"/>
<text x="1183.4" y="859.75" font-size="25.8" text-anchor="end">80</text>
<line x1="1188.25" y1="1184.25" x2="1996.25" y2="1184.25" stroke-width="2.2"/>
<line x1="1192.3" y1="1185.25" x2="1996" y2="1185.25" stroke-width="2.2" stroke-linecap="round" stroke-dasharray="0.01 10.22"/>
<line x1="1455.75" y1="859" x2="1455.75" y2="1180" stroke-width="3.1" stroke-linecap="round" stroke-dasharray="0.01 10.2"/>
<line x1="1731.3" y1="859" x2="1731.3" y2="1180" stroke-width="3.1" stroke-linecap="round" stroke-dasharray="0.01 10.2"/>
<text x="1095.75" y="1118.8" font-size="28" transform="rotate(-90 1095.75 1118.8)">Secreted IL-17A</text>
<text x="1130" y="1174.1" font-size="27.9" transform="rotate(-90 1130 1174.1)">from spleen cells (pg/mL)</text>
<line x1="1330.5" y1="1184.25" x2="1330.5" y2="1197.5" stroke-width="1.6"/>
<text x="1331.1" y="1224.6" font-size="25.6" text-anchor="middle">J8-DT</text>
<line x1="1598.25" y1="1184.25" x2="1598.25" y2="1197.5" stroke-width="1.6"/>
<text x="1598.85" y="1224.6" font-size="25.6" text-anchor="middle">J8</text>
<line x1="1866.75" y1="1184.25" x2="1866.75" y2="1197.5" stroke-width="1.6"/>
<text x="1867.35" y="1224.6" font-size="25.6" text-anchor="middle">DT</text>
<text x="1489.4" y="1271.25" font-size="27.6"><tspan font-style="italic">ex-vivo</tspan> stimulants</text>
<rect x="1239.25" y="978" width="17.75" height="206.25" fill="#6666ff" stroke-width="1.8"/>
<path d="M1248 925V1029.5M1243.5 925h9M1243.5 1029.5h9" fill="none" stroke-width="1.5"/>
<rect x="1775" y="1170.75" width="18" height="13.5" fill="#6666ff" stroke-width="1.8"/>
<path d="M1784 1163V1171M1779.5 1163h9" fill="none" stroke-width="1.5"/>
<path d="M1220 931.75V875.75H1249.5V850.75H1599V897.5" fill="none" stroke-width="1.5"/>
<path d="M1276.25 931.75V897.5H1978.8V932" fill="none" stroke-width="1.5"/>
<text x="1202.54" y="883.42" font-size="28.6" fill="#0000ff" textLength="46.72" lengthAdjust="spacing" style="stroke:#0000ff;stroke-width:0.45px">****</text>
<text x="1391.29" y="857.92" font-size="28.6" fill="#0000ff" textLength="46.72" lengthAdjust="spacing" style="stroke:#0000ff;stroke-width:0.45px">****</text>
<g class="pt pd">
<circle cx="1247.5" cy="901.25" r="4.35"/>
<circle cx="1247.5" cy="954.25" r="4.35"/>
<circle cx="1247.5" cy="1078" r="4.35"/>
<circle cx="1215.75" cy="1181.25" r="4.35"/>
<circle cx="1224.5" cy="1181.25" r="4.35"/>
<circle cx="1220" cy="1172.5" r="4.35"/>
<circle cx="1271.25" cy="1181.25" r="4.35"/>
<circle cx="1275" cy="1181.25" r="4.35"/>
<circle cx="1280" cy="1181.25" r="4.35"/>
<circle cx="1299.5" cy="1181.25" r="4.35"/>
<circle cx="1307.5" cy="1181.25" r="4.35"/>
<circle cx="1327" cy="1181.25" r="4.35"/>
<circle cx="1335" cy="1181.25" r="4.35"/>
<circle cx="1355.5" cy="1181.25" r="4.35"/>
<circle cx="1362.5" cy="1181.25" r="4.35"/>
<circle cx="1360" cy="1180" r="4.35"/>
<circle cx="1383" cy="1181.25" r="4.35"/>
<circle cx="1391.25" cy="1181.25" r="4.35"/>
<circle cx="1410.75" cy="1181.25" r="4.35"/>
<circle cx="1418.75" cy="1181.25" r="4.35"/>
<circle cx="1438.75" cy="1181.25" r="4.35"/>
<circle cx="1446.25" cy="1181.25" r="4.35"/>
<circle cx="1483.75" cy="1181.25" r="4.35"/>
<circle cx="1492.5" cy="1181.25" r="4.35"/>
<circle cx="1488" cy="1175" r="4.35"/>
<circle cx="1512.5" cy="1181.25" r="4.35"/>
<circle cx="1520.5" cy="1181.25" r="4.35"/>
<circle cx="1540" cy="1181.25" r="4.35"/>
<circle cx="1548.25" cy="1181.25" r="4.35"/>
<circle cx="1568" cy="1181.25" r="4.35"/>
<circle cx="1575.75" cy="1181.25" r="4.35"/>
<circle cx="1595.75" cy="1181.25" r="4.35"/>
<circle cx="1603.75" cy="1181.25" r="4.35"/>
<circle cx="1623" cy="1181.25" r="4.35"/>
<circle cx="1631.25" cy="1181.25" r="4.35"/>
<circle cx="1650.75" cy="1181.25" r="4.35"/>
<circle cx="1659.25" cy="1181.25" r="4.35"/>
<circle cx="1678.75" cy="1181.25" r="4.35"/>
<circle cx="1687" cy="1181.25" r="4.35"/>
<circle cx="1706.25" cy="1181.25" r="4.35"/>
<circle cx="1714.5" cy="1181.25" r="4.35"/>
<circle cx="1752" cy="1181.25" r="4.35"/>
<circle cx="1760.75" cy="1181.25" r="4.35"/>
<circle cx="1756.25" cy="1172.5" r="4.35"/>
<circle cx="1783.75" cy="1155" r="4.35"/>
<circle cx="1780" cy="1181" r="4.35"/>
<circle cx="1788.25" cy="1175.75" r="4.35"/>
<circle cx="1807.5" cy="1181.25" r="4.35"/>
<circle cx="1816.25" cy="1181.25" r="4.35"/>
<circle cx="1835" cy="1181.25" r="4.35"/>
<circle cx="1843.75" cy="1181.25" r="4.35"/>
<circle cx="1862.5" cy="1181.25" r="4.35"/>
<circle cx="1871.25" cy="1181.25" r="4.35"/>
<circle cx="1890.75" cy="1181.25" r="4.35"/>
<circle cx="1899.25" cy="1181.25" r="4.35"/>
<circle cx="1918" cy="1181.25" r="4.35"/>
<circle cx="1926.75" cy="1181.25" r="4.35"/>
<circle cx="1945.75" cy="1181.25" r="4.35"/>
<circle cx="1954.25" cy="1181.25" r="4.35"/>
<circle cx="1973.75" cy="1181.25" r="4.35"/>
<circle cx="1982.5" cy="1181.25" r="4.35"/>
</g>
<rect x="237.5" y="1354.25" width="42.3" height="20.2" fill="#e03550" stroke-width="1" stroke="#222"/>
<text x="302.27" y="1375.75" font-size="33.35">PBS</text>
<rect x="236.25" y="1395.5" width="42.3" height="20.2" fill="#6666ff" stroke-width="1" stroke="#222"/>
<text x="302.72" y="1417" font-size="32.97">J8-Lipo-DT-PHAD</text>
<rect x="668.25" y="1354.25" width="42.3" height="20.2" fill="#d3d3d3" stroke-width="1" stroke="#222"/>
<text x="734.97" y="1375.75" font-size="32.84">J8-Lipo-DT</text>
<rect x="668.25" y="1397" width="42.3" height="20.2" fill="#0f5a10" stroke-width="1" stroke="#222"/>
<text x="732.79" y="1417" font-size="33">Lipo-DT</text>
<rect x="1021" y="1355.5" width="42.3" height="20.2" fill="#c4a00e" stroke-width="1" stroke="#222"/>
<text x="1085.49" y="1376.5" font-size="33.03">Lipo-DT-PHAD</text>
<rect x="1022" y="1397" width="42.3" height="20.2" fill="#85003f" stroke-width="1" stroke="#222"/>
<text x="1086.31" y="1417.5" font-size="32.84">Lipo-PHAD</text>
<rect x="1415" y="1356" width="42.3" height="20.2" fill="#cc66ff" stroke-width="1" stroke="#222"/>
<text x="1481.26" y="1376.5" font-size="33.58">J8-Lipo</text>
<rect x="1414.25" y="1398" width="42.3" height="20.2" fill="#00ffe8" stroke-width="1" stroke="#222"/>
<text x="1480.47" y="1417.5" font-size="32.88">J8-Lipo-PHAD</text>
<rect x="1767.25" y="1354.5" width="42.3" height="20.2" fill="#80e63f" stroke-width="1" stroke="#222"/>
<text x="1831.73" y="1376.25" font-size="33.83">Lipo</text>
</svg>
</body></html>
